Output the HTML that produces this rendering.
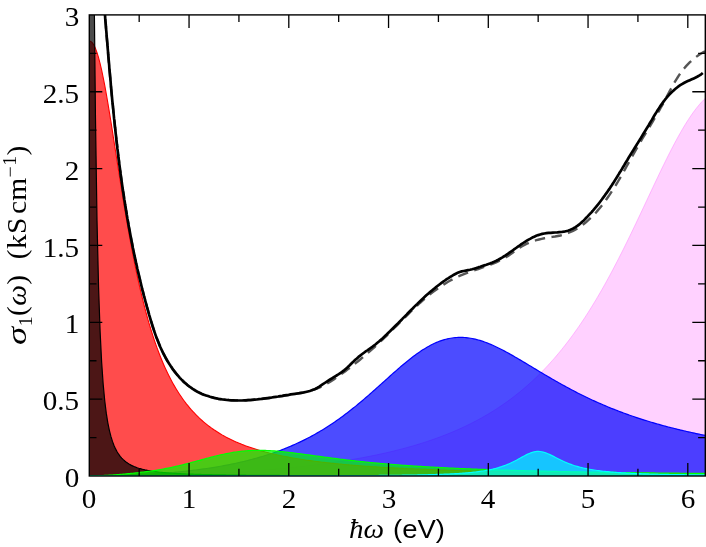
<!DOCTYPE html>
<html><head><meta charset="utf-8"><style>
html,body{margin:0;padding:0;background:#fff;overflow:hidden;}
body{width:706px;height:547px;position:relative;overflow:hidden;font-family:"Liberation Serif",serif;color:#000;}
.yl{position:absolute;right:626.8px;height:30px;line-height:30px;font-size:26.5px;white-space:nowrap;transform:scaleX(1.10);transform-origin:100% 50%;}
.xl{position:absolute;top:483.5px;width:40px;text-align:center;height:30px;line-height:30px;font-size:26.5px;transform:scaleX(1.10);}
#xlab{position:absolute;left:297px;width:200px;text-align:center;top:514px;height:30px;line-height:30px;font-size:26.5px;white-space:nowrap;transform:scaleX(1.10);}
#ylab{position:absolute;left:26px;top:345px;height:30px;line-height:30px;font-size:26.5px;letter-spacing:0.3px;white-space:nowrap;transform-origin:0 0;transform:rotate(-90deg) scaleX(1.11) translate(0,-24px);}
.i{font-style:italic;}
.yl,.xl,#xlab,#ylab{filter:grayscale(1);}
.s{font-family:"Liberation Sans",sans-serif;font-size:25px;}
sub,sup{font-size:18px;line-height:0;}
</style></head><body>
<svg width="706" height="547" viewBox="0 0 706 547" style="position:absolute;left:0;top:0">
<defs><clipPath id="c"><rect x="89.3" y="14.9" width="616.0" height="461.1"/></clipPath></defs>
<g clip-path="url(#c)">
<path d="M89.30 476.00 L90.84 476.00 L92.39 476.00 L93.93 476.00 L95.48 475.99 L97.02 475.99 L98.56 475.99 L100.11 475.98 L101.65 475.97 L103.19 475.97 L104.74 475.96 L106.28 475.95 L107.83 475.94 L109.37 475.93 L110.91 475.92 L112.46 475.91 L114.00 475.89 L115.55 475.88 L117.09 475.87 L118.63 475.85 L120.18 475.84 L121.72 475.82 L123.26 475.80 L124.81 475.78 L126.35 475.76 L127.90 475.74 L129.44 475.72 L130.98 475.70 L132.53 475.68 L134.07 475.65 L135.62 475.63 L137.16 475.60 L138.70 475.58 L140.25 475.55 L141.79 475.52 L143.34 475.49 L144.88 475.46 L146.42 475.43 L147.97 475.40 L149.51 475.37 L151.05 475.33 L152.60 475.30 L154.14 475.26 L155.69 475.23 L157.23 475.19 L158.77 475.15 L160.32 475.11 L161.86 475.07 L163.41 475.03 L164.95 474.99 L166.49 474.95 L168.04 474.90 L169.58 474.86 L171.12 474.81 L172.67 474.77 L174.21 474.72 L175.76 474.67 L177.30 474.62 L178.84 474.57 L180.39 474.52 L181.93 474.47 L183.48 474.41 L185.02 474.36 L186.56 474.30 L188.11 474.24 L189.65 474.19 L191.19 474.13 L192.74 474.07 L194.28 474.01 L195.83 473.95 L197.37 473.88 L198.91 473.82 L200.46 473.75 L202.00 473.69 L203.55 473.62 L205.09 473.55 L206.63 473.48 L208.18 473.41 L209.72 473.34 L211.26 473.26 L212.81 473.19 L214.35 473.11 L215.90 473.04 L217.44 472.96 L218.98 472.88 L220.53 472.80 L222.07 472.71 L223.62 472.63 L225.16 472.55 L226.70 472.46 L228.25 472.37 L229.79 472.29 L231.34 472.20 L232.88 472.10 L234.42 472.01 L235.97 471.92 L237.51 471.82 L239.05 471.73 L240.60 471.63 L242.14 471.53 L243.69 471.43 L245.23 471.33 L246.77 471.22 L248.32 471.12 L249.86 471.01 L251.41 470.90 L252.95 470.79 L254.49 470.68 L256.04 470.57 L257.58 470.45 L259.12 470.34 L260.67 470.22 L262.21 470.10 L263.76 469.98 L265.30 469.86 L266.84 469.73 L268.39 469.61 L269.93 469.48 L271.48 469.35 L273.02 469.22 L274.56 469.08 L276.11 468.95 L277.65 468.81 L279.19 468.67 L280.74 468.53 L282.28 468.39 L283.83 468.25 L285.37 468.10 L286.91 467.95 L288.46 467.80 L290.00 467.65 L291.55 467.49 L293.09 467.34 L294.63 467.18 L296.18 467.02 L297.72 466.86 L299.26 466.69 L300.81 466.52 L302.35 466.36 L303.90 466.18 L305.44 466.01 L306.98 465.83 L308.53 465.65 L310.07 465.47 L311.62 465.29 L313.16 465.10 L314.70 464.92 L316.25 464.73 L317.79 464.53 L319.34 464.34 L320.88 464.14 L322.42 463.94 L323.97 463.73 L325.51 463.53 L327.05 463.32 L328.60 463.11 L330.14 462.89 L331.69 462.67 L333.23 462.45 L334.77 462.23 L336.32 462.00 L337.86 461.77 L339.41 461.54 L340.95 461.30 L342.49 461.06 L344.04 460.82 L345.58 460.58 L347.12 460.33 L348.67 460.08 L350.21 459.82 L351.76 459.56 L353.30 459.30 L354.84 459.03 L356.39 458.76 L357.93 458.49 L359.48 458.21 L361.02 457.93 L362.56 457.65 L364.11 457.36 L365.65 457.07 L367.19 456.77 L368.74 456.47 L370.28 456.17 L371.83 455.86 L373.37 455.55 L374.91 455.23 L376.46 454.91 L378.00 454.59 L379.55 454.26 L381.09 453.92 L382.63 453.58 L384.18 453.24 L385.72 452.89 L387.26 452.54 L388.81 452.18 L390.35 451.81 L391.90 451.45 L393.44 451.07 L394.98 450.69 L396.53 450.31 L398.07 449.92 L399.62 449.53 L401.16 449.13 L402.70 448.72 L404.25 448.31 L405.79 447.89 L407.34 447.47 L408.88 447.04 L410.42 446.60 L411.97 446.16 L413.51 445.72 L415.05 445.26 L416.60 444.80 L418.14 444.33 L419.69 443.86 L421.23 443.38 L422.77 442.89 L424.32 442.40 L425.86 441.90 L427.41 441.39 L428.95 440.87 L430.49 440.35 L432.04 439.82 L433.58 439.28 L435.12 438.73 L436.67 438.18 L438.21 437.61 L439.76 437.04 L441.30 436.46 L442.84 435.87 L444.39 435.28 L445.93 434.67 L447.48 434.06 L449.02 433.43 L450.56 432.80 L452.11 432.16 L453.65 431.51 L455.19 430.85 L456.74 430.17 L458.28 429.49 L459.83 428.80 L461.37 428.10 L462.91 427.39 L464.46 426.66 L466.00 425.93 L467.55 425.18 L469.09 424.43 L470.63 423.66 L472.18 422.88 L473.72 422.09 L475.26 421.29 L476.81 420.47 L478.35 419.64 L479.90 418.80 L481.44 417.95 L482.98 417.08 L484.53 416.20 L486.07 415.31 L487.62 414.40 L489.16 413.48 L490.70 412.54 L492.25 411.59 L493.79 410.63 L495.34 409.65 L496.88 408.66 L498.42 407.65 L499.97 406.62 L501.51 405.58 L503.05 404.52 L504.60 403.45 L506.14 402.36 L507.69 401.25 L509.23 400.12 L510.77 398.98 L512.32 397.82 L513.86 396.64 L515.41 395.44 L516.95 394.23 L518.49 392.99 L520.04 391.74 L521.58 390.46 L523.12 389.17 L524.67 387.86 L526.21 386.52 L527.76 385.17 L529.30 383.79 L530.84 382.39 L532.39 380.97 L533.93 379.53 L535.48 378.07 L537.02 376.58 L538.56 375.07 L540.11 373.54 L541.65 371.98 L543.19 370.40 L544.74 368.80 L546.28 367.17 L547.83 365.51 L549.37 363.83 L550.91 362.13 L552.46 360.40 L554.00 358.64 L555.55 356.85 L557.09 355.04 L558.63 353.20 L560.18 351.34 L561.72 349.44 L563.26 347.52 L564.81 345.57 L566.35 343.59 L567.90 341.58 L569.44 339.54 L570.98 337.48 L572.53 335.38 L574.07 333.25 L575.62 331.09 L577.16 328.91 L578.70 326.69 L580.25 324.44 L581.79 322.16 L583.34 319.85 L584.88 317.50 L586.42 315.13 L587.97 312.73 L589.51 310.29 L591.05 307.82 L592.60 305.32 L594.14 302.79 L595.69 300.23 L597.23 297.63 L598.77 295.01 L600.32 292.35 L601.86 289.66 L603.41 286.94 L604.95 284.19 L606.49 281.41 L608.04 278.60 L609.58 275.76 L611.12 272.90 L612.67 270.00 L614.21 267.07 L615.76 264.12 L617.30 261.14 L618.84 258.13 L620.39 255.10 L621.93 252.05 L623.48 248.97 L625.02 245.86 L626.56 242.74 L628.11 239.59 L629.65 236.42 L631.19 233.24 L632.74 230.04 L634.28 226.82 L635.83 223.58 L637.37 220.34 L638.91 217.08 L640.46 213.81 L642.00 210.54 L643.55 207.25 L645.09 203.97 L646.63 200.68 L648.18 197.39 L649.72 194.10 L651.26 190.81 L652.81 187.53 L654.35 184.26 L655.90 181.00 L657.44 177.75 L658.98 174.52 L660.53 171.30 L662.07 168.11 L663.62 164.93 L665.16 161.79 L666.70 158.67 L668.25 155.59 L669.79 152.53 L671.34 149.52 L672.88 146.55 L674.42 143.62 L675.97 140.73 L677.51 137.89 L679.05 135.11 L680.60 132.38 L682.14 129.71 L683.69 127.09 L685.23 124.55 L686.77 122.06 L688.32 119.65 L689.86 117.31 L691.41 115.04 L692.95 112.84 L694.49 110.73 L696.04 108.70 L697.58 106.75 L699.12 104.89 L700.67 103.12 L702.21 101.43 L703.76 99.84 L705.30 98.34 L705.30 476.00 L89.30 476.00 Z" fill="#ff00ff" fill-opacity="0.18" stroke="none"/>
<path d="M89.30 476.00 L90.84 476.00 L92.39 476.00 L93.93 476.00 L95.48 475.99 L97.02 475.99 L98.56 475.99 L100.11 475.98 L101.65 475.97 L103.19 475.97 L104.74 475.96 L106.28 475.95 L107.83 475.94 L109.37 475.93 L110.91 475.92 L112.46 475.91 L114.00 475.89 L115.55 475.88 L117.09 475.87 L118.63 475.85 L120.18 475.84 L121.72 475.82 L123.26 475.80 L124.81 475.78 L126.35 475.76 L127.90 475.74 L129.44 475.72 L130.98 475.70 L132.53 475.68 L134.07 475.65 L135.62 475.63 L137.16 475.60 L138.70 475.58 L140.25 475.55 L141.79 475.52 L143.34 475.49 L144.88 475.46 L146.42 475.43 L147.97 475.40 L149.51 475.37 L151.05 475.33 L152.60 475.30 L154.14 475.26 L155.69 475.23 L157.23 475.19 L158.77 475.15 L160.32 475.11 L161.86 475.07 L163.41 475.03 L164.95 474.99 L166.49 474.95 L168.04 474.90 L169.58 474.86 L171.12 474.81 L172.67 474.77 L174.21 474.72 L175.76 474.67 L177.30 474.62 L178.84 474.57 L180.39 474.52 L181.93 474.47 L183.48 474.41 L185.02 474.36 L186.56 474.30 L188.11 474.24 L189.65 474.19 L191.19 474.13 L192.74 474.07 L194.28 474.01 L195.83 473.95 L197.37 473.88 L198.91 473.82 L200.46 473.75 L202.00 473.69 L203.55 473.62 L205.09 473.55 L206.63 473.48 L208.18 473.41 L209.72 473.34 L211.26 473.26 L212.81 473.19 L214.35 473.11 L215.90 473.04 L217.44 472.96 L218.98 472.88 L220.53 472.80 L222.07 472.71 L223.62 472.63 L225.16 472.55 L226.70 472.46 L228.25 472.37 L229.79 472.29 L231.34 472.20 L232.88 472.10 L234.42 472.01 L235.97 471.92 L237.51 471.82 L239.05 471.73 L240.60 471.63 L242.14 471.53 L243.69 471.43 L245.23 471.33 L246.77 471.22 L248.32 471.12 L249.86 471.01 L251.41 470.90 L252.95 470.79 L254.49 470.68 L256.04 470.57 L257.58 470.45 L259.12 470.34 L260.67 470.22 L262.21 470.10 L263.76 469.98 L265.30 469.86 L266.84 469.73 L268.39 469.61 L269.93 469.48 L271.48 469.35 L273.02 469.22 L274.56 469.08 L276.11 468.95 L277.65 468.81 L279.19 468.67 L280.74 468.53 L282.28 468.39 L283.83 468.25 L285.37 468.10 L286.91 467.95 L288.46 467.80 L290.00 467.65 L291.55 467.49 L293.09 467.34 L294.63 467.18 L296.18 467.02 L297.72 466.86 L299.26 466.69 L300.81 466.52 L302.35 466.36 L303.90 466.18 L305.44 466.01 L306.98 465.83 L308.53 465.65 L310.07 465.47 L311.62 465.29 L313.16 465.10 L314.70 464.92 L316.25 464.73 L317.79 464.53 L319.34 464.34 L320.88 464.14 L322.42 463.94 L323.97 463.73 L325.51 463.53 L327.05 463.32 L328.60 463.11 L330.14 462.89 L331.69 462.67 L333.23 462.45 L334.77 462.23 L336.32 462.00 L337.86 461.77 L339.41 461.54 L340.95 461.30 L342.49 461.06 L344.04 460.82 L345.58 460.58 L347.12 460.33 L348.67 460.08 L350.21 459.82 L351.76 459.56 L353.30 459.30 L354.84 459.03 L356.39 458.76 L357.93 458.49 L359.48 458.21 L361.02 457.93 L362.56 457.65 L364.11 457.36 L365.65 457.07 L367.19 456.77 L368.74 456.47 L370.28 456.17 L371.83 455.86 L373.37 455.55 L374.91 455.23 L376.46 454.91 L378.00 454.59 L379.55 454.26 L381.09 453.92 L382.63 453.58 L384.18 453.24 L385.72 452.89 L387.26 452.54 L388.81 452.18 L390.35 451.81 L391.90 451.45 L393.44 451.07 L394.98 450.69 L396.53 450.31 L398.07 449.92 L399.62 449.53 L401.16 449.13 L402.70 448.72 L404.25 448.31 L405.79 447.89 L407.34 447.47 L408.88 447.04 L410.42 446.60 L411.97 446.16 L413.51 445.72 L415.05 445.26 L416.60 444.80 L418.14 444.33 L419.69 443.86 L421.23 443.38 L422.77 442.89 L424.32 442.40 L425.86 441.90 L427.41 441.39 L428.95 440.87 L430.49 440.35 L432.04 439.82 L433.58 439.28 L435.12 438.73 L436.67 438.18 L438.21 437.61 L439.76 437.04 L441.30 436.46 L442.84 435.87 L444.39 435.28 L445.93 434.67 L447.48 434.06 L449.02 433.43 L450.56 432.80 L452.11 432.16 L453.65 431.51 L455.19 430.85 L456.74 430.17 L458.28 429.49 L459.83 428.80 L461.37 428.10 L462.91 427.39 L464.46 426.66 L466.00 425.93 L467.55 425.18 L469.09 424.43 L470.63 423.66 L472.18 422.88 L473.72 422.09 L475.26 421.29 L476.81 420.47 L478.35 419.64 L479.90 418.80 L481.44 417.95 L482.98 417.08 L484.53 416.20 L486.07 415.31 L487.62 414.40 L489.16 413.48 L490.70 412.54 L492.25 411.59 L493.79 410.63 L495.34 409.65 L496.88 408.66 L498.42 407.65 L499.97 406.62 L501.51 405.58 L503.05 404.52 L504.60 403.45 L506.14 402.36 L507.69 401.25 L509.23 400.12 L510.77 398.98 L512.32 397.82 L513.86 396.64 L515.41 395.44 L516.95 394.23 L518.49 392.99 L520.04 391.74 L521.58 390.46 L523.12 389.17 L524.67 387.86 L526.21 386.52 L527.76 385.17 L529.30 383.79 L530.84 382.39 L532.39 380.97 L533.93 379.53 L535.48 378.07 L537.02 376.58 L538.56 375.07 L540.11 373.54 L541.65 371.98 L543.19 370.40 L544.74 368.80 L546.28 367.17 L547.83 365.51 L549.37 363.83 L550.91 362.13 L552.46 360.40 L554.00 358.64 L555.55 356.85 L557.09 355.04 L558.63 353.20 L560.18 351.34 L561.72 349.44 L563.26 347.52 L564.81 345.57 L566.35 343.59 L567.90 341.58 L569.44 339.54 L570.98 337.48 L572.53 335.38 L574.07 333.25 L575.62 331.09 L577.16 328.91 L578.70 326.69 L580.25 324.44 L581.79 322.16 L583.34 319.85 L584.88 317.50 L586.42 315.13 L587.97 312.73 L589.51 310.29 L591.05 307.82 L592.60 305.32 L594.14 302.79 L595.69 300.23 L597.23 297.63 L598.77 295.01 L600.32 292.35 L601.86 289.66 L603.41 286.94 L604.95 284.19 L606.49 281.41 L608.04 278.60 L609.58 275.76 L611.12 272.90 L612.67 270.00 L614.21 267.07 L615.76 264.12 L617.30 261.14 L618.84 258.13 L620.39 255.10 L621.93 252.05 L623.48 248.97 L625.02 245.86 L626.56 242.74 L628.11 239.59 L629.65 236.42 L631.19 233.24 L632.74 230.04 L634.28 226.82 L635.83 223.58 L637.37 220.34 L638.91 217.08 L640.46 213.81 L642.00 210.54 L643.55 207.25 L645.09 203.97 L646.63 200.68 L648.18 197.39 L649.72 194.10 L651.26 190.81 L652.81 187.53 L654.35 184.26 L655.90 181.00 L657.44 177.75 L658.98 174.52 L660.53 171.30 L662.07 168.11 L663.62 164.93 L665.16 161.79 L666.70 158.67 L668.25 155.59 L669.79 152.53 L671.34 149.52 L672.88 146.55 L674.42 143.62 L675.97 140.73 L677.51 137.89 L679.05 135.11 L680.60 132.38 L682.14 129.71 L683.69 127.09 L685.23 124.55 L686.77 122.06 L688.32 119.65 L689.86 117.31 L691.41 115.04 L692.95 112.84 L694.49 110.73 L696.04 108.70 L697.58 106.75 L699.12 104.89 L700.67 103.12 L702.21 101.43 L703.76 99.84 L705.30 98.34" fill="none" stroke="#ff80ff" stroke-width="1" stroke-opacity="0.5"/>
<path d="M89.30 476.00 L90.84 476.00 L92.39 476.00 L93.93 475.99 L95.48 475.98 L97.02 475.97 L98.56 475.96 L100.11 475.95 L101.65 475.93 L103.19 475.91 L104.74 475.89 L106.28 475.87 L107.83 475.84 L109.37 475.81 L110.91 475.78 L112.46 475.75 L114.00 475.71 L115.55 475.68 L117.09 475.64 L118.63 475.60 L120.18 475.55 L121.72 475.50 L123.26 475.46 L124.81 475.40 L126.35 475.35 L127.90 475.29 L129.44 475.24 L130.98 475.17 L132.53 475.11 L134.07 475.05 L135.62 474.98 L137.16 474.91 L138.70 474.83 L140.25 474.76 L141.79 474.68 L143.34 474.60 L144.88 474.51 L146.42 474.42 L147.97 474.33 L149.51 474.24 L151.05 474.15 L152.60 474.05 L154.14 473.95 L155.69 473.84 L157.23 473.74 L158.77 473.63 L160.32 473.51 L161.86 473.40 L163.41 473.28 L164.95 473.16 L166.49 473.03 L168.04 472.90 L169.58 472.77 L171.12 472.64 L172.67 472.50 L174.21 472.36 L175.76 472.21 L177.30 472.07 L178.84 471.91 L180.39 471.76 L181.93 471.60 L183.48 471.44 L185.02 471.27 L186.56 471.10 L188.11 470.93 L189.65 470.75 L191.19 470.57 L192.74 470.38 L194.28 470.19 L195.83 469.99 L197.37 469.80 L198.91 469.59 L200.46 469.39 L202.00 469.17 L203.55 468.96 L205.09 468.74 L206.63 468.51 L208.18 468.28 L209.72 468.05 L211.26 467.81 L212.81 467.56 L214.35 467.31 L215.90 467.06 L217.44 466.80 L218.98 466.53 L220.53 466.26 L222.07 465.98 L223.62 465.70 L225.16 465.41 L226.70 465.12 L228.25 464.82 L229.79 464.51 L231.34 464.20 L232.88 463.88 L234.42 463.56 L235.97 463.23 L237.51 462.89 L239.05 462.54 L240.60 462.19 L242.14 461.83 L243.69 461.47 L245.23 461.09 L246.77 460.71 L248.32 460.33 L249.86 459.93 L251.41 459.53 L252.95 459.12 L254.49 458.70 L256.04 458.27 L257.58 457.84 L259.12 457.39 L260.67 456.94 L262.21 456.48 L263.76 456.01 L265.30 455.53 L266.84 455.04 L268.39 454.54 L269.93 454.04 L271.48 453.52 L273.02 452.99 L274.56 452.46 L276.11 451.91 L277.65 451.35 L279.19 450.78 L280.74 450.20 L282.28 449.61 L283.83 449.01 L285.37 448.40 L286.91 447.78 L288.46 447.14 L290.00 446.49 L291.55 445.84 L293.09 445.16 L294.63 444.48 L296.18 443.79 L297.72 443.08 L299.26 442.36 L300.81 441.62 L302.35 440.88 L303.90 440.11 L305.44 439.34 L306.98 438.55 L308.53 437.75 L310.07 436.94 L311.62 436.11 L313.16 435.26 L314.70 434.40 L316.25 433.53 L317.79 432.64 L319.34 431.74 L320.88 430.83 L322.42 429.89 L323.97 428.95 L325.51 427.99 L327.05 427.01 L328.60 426.02 L330.14 425.01 L331.69 423.99 L333.23 422.95 L334.77 421.90 L336.32 420.83 L337.86 419.74 L339.41 418.65 L340.95 417.53 L342.49 416.40 L344.04 415.26 L345.58 414.10 L347.12 412.93 L348.67 411.74 L350.21 410.54 L351.76 409.32 L353.30 408.09 L354.84 406.85 L356.39 405.60 L357.93 404.33 L359.48 403.05 L361.02 401.76 L362.56 400.45 L364.11 399.14 L365.65 397.81 L367.19 396.48 L368.74 395.13 L370.28 393.78 L371.83 392.42 L373.37 391.06 L374.91 389.68 L376.46 388.30 L378.00 386.92 L379.55 385.53 L381.09 384.14 L382.63 382.75 L384.18 381.36 L385.72 379.97 L387.26 378.58 L388.81 377.19 L390.35 375.80 L391.90 374.42 L393.44 373.05 L394.98 371.68 L396.53 370.33 L398.07 368.98 L399.62 367.64 L401.16 366.32 L402.70 365.01 L404.25 363.71 L405.79 362.43 L407.34 361.17 L408.88 359.93 L410.42 358.71 L411.97 357.51 L413.51 356.34 L415.05 355.19 L416.60 354.06 L418.14 352.97 L419.69 351.90 L421.23 350.86 L422.77 349.86 L424.32 348.89 L425.86 347.95 L427.41 347.04 L428.95 346.17 L430.49 345.34 L432.04 344.55 L433.58 343.79 L435.12 343.08 L436.67 342.40 L438.21 341.77 L439.76 341.18 L441.30 340.62 L442.84 340.12 L444.39 339.65 L445.93 339.23 L447.48 338.85 L449.02 338.51 L450.56 338.22 L452.11 337.97 L453.65 337.76 L455.19 337.60 L456.74 337.48 L458.28 337.40 L459.83 337.37 L461.37 337.37 L462.91 337.42 L464.46 337.51 L466.00 337.63 L467.55 337.80 L469.09 338.01 L470.63 338.25 L472.18 338.53 L473.72 338.85 L475.26 339.20 L476.81 339.58 L478.35 340.00 L479.90 340.45 L481.44 340.93 L482.98 341.44 L484.53 341.98 L486.07 342.55 L487.62 343.14 L489.16 343.76 L490.70 344.40 L492.25 345.07 L493.79 345.76 L495.34 346.47 L496.88 347.20 L498.42 347.95 L499.97 348.72 L501.51 349.50 L503.05 350.30 L504.60 351.11 L506.14 351.94 L507.69 352.78 L509.23 353.64 L510.77 354.50 L512.32 355.37 L513.86 356.26 L515.41 357.15 L516.95 358.04 L518.49 358.95 L520.04 359.86 L521.58 360.77 L523.12 361.69 L524.67 362.62 L526.21 363.54 L527.76 364.47 L529.30 365.40 L530.84 366.33 L532.39 367.26 L533.93 368.19 L535.48 369.12 L537.02 370.05 L538.56 370.98 L540.11 371.90 L541.65 372.83 L543.19 373.75 L544.74 374.66 L546.28 375.57 L547.83 376.48 L549.37 377.39 L550.91 378.29 L552.46 379.18 L554.00 380.07 L555.55 380.96 L557.09 381.84 L558.63 382.71 L560.18 383.58 L561.72 384.44 L563.26 385.29 L564.81 386.14 L566.35 386.98 L567.90 387.82 L569.44 388.65 L570.98 389.47 L572.53 390.28 L574.07 391.09 L575.62 391.88 L577.16 392.68 L578.70 393.46 L580.25 394.24 L581.79 395.01 L583.34 395.77 L584.88 396.52 L586.42 397.27 L587.97 398.01 L589.51 398.74 L591.05 399.47 L592.60 400.18 L594.14 400.89 L595.69 401.59 L597.23 402.29 L598.77 402.97 L600.32 403.65 L601.86 404.32 L603.41 404.99 L604.95 405.64 L606.49 406.29 L608.04 406.94 L609.58 407.57 L611.12 408.20 L612.67 408.82 L614.21 409.43 L615.76 410.04 L617.30 410.64 L618.84 411.23 L620.39 411.82 L621.93 412.40 L623.48 412.97 L625.02 413.54 L626.56 414.10 L628.11 414.65 L629.65 415.20 L631.19 415.74 L632.74 416.27 L634.28 416.80 L635.83 417.32 L637.37 417.83 L638.91 418.34 L640.46 418.85 L642.00 419.34 L643.55 419.84 L645.09 420.32 L646.63 420.80 L648.18 421.28 L649.72 421.74 L651.26 422.21 L652.81 422.66 L654.35 423.12 L655.90 423.56 L657.44 424.01 L658.98 424.44 L660.53 424.88 L662.07 425.30 L663.62 425.72 L665.16 426.14 L666.70 426.55 L668.25 426.96 L669.79 427.36 L671.34 427.76 L672.88 428.15 L674.42 428.54 L675.97 428.92 L677.51 429.30 L679.05 429.68 L680.60 430.05 L682.14 430.42 L683.69 430.78 L685.23 431.14 L686.77 431.49 L688.32 431.84 L689.86 432.19 L691.41 432.53 L692.95 432.87 L694.49 433.21 L696.04 433.54 L697.58 433.86 L699.12 434.19 L700.67 434.51 L702.21 434.82 L703.76 435.14 L705.30 435.45 L705.30 476.00 L89.30 476.00 Z" fill="#0000ff" fill-opacity="0.7" stroke="none"/>
<path d="M89.30 476.00 L90.84 476.00 L92.39 476.00 L93.93 475.99 L95.48 475.98 L97.02 475.97 L98.56 475.96 L100.11 475.95 L101.65 475.93 L103.19 475.91 L104.74 475.89 L106.28 475.87 L107.83 475.84 L109.37 475.81 L110.91 475.78 L112.46 475.75 L114.00 475.71 L115.55 475.68 L117.09 475.64 L118.63 475.60 L120.18 475.55 L121.72 475.50 L123.26 475.46 L124.81 475.40 L126.35 475.35 L127.90 475.29 L129.44 475.24 L130.98 475.17 L132.53 475.11 L134.07 475.05 L135.62 474.98 L137.16 474.91 L138.70 474.83 L140.25 474.76 L141.79 474.68 L143.34 474.60 L144.88 474.51 L146.42 474.42 L147.97 474.33 L149.51 474.24 L151.05 474.15 L152.60 474.05 L154.14 473.95 L155.69 473.84 L157.23 473.74 L158.77 473.63 L160.32 473.51 L161.86 473.40 L163.41 473.28 L164.95 473.16 L166.49 473.03 L168.04 472.90 L169.58 472.77 L171.12 472.64 L172.67 472.50 L174.21 472.36 L175.76 472.21 L177.30 472.07 L178.84 471.91 L180.39 471.76 L181.93 471.60 L183.48 471.44 L185.02 471.27 L186.56 471.10 L188.11 470.93 L189.65 470.75 L191.19 470.57 L192.74 470.38 L194.28 470.19 L195.83 469.99 L197.37 469.80 L198.91 469.59 L200.46 469.39 L202.00 469.17 L203.55 468.96 L205.09 468.74 L206.63 468.51 L208.18 468.28 L209.72 468.05 L211.26 467.81 L212.81 467.56 L214.35 467.31 L215.90 467.06 L217.44 466.80 L218.98 466.53 L220.53 466.26 L222.07 465.98 L223.62 465.70 L225.16 465.41 L226.70 465.12 L228.25 464.82 L229.79 464.51 L231.34 464.20 L232.88 463.88 L234.42 463.56 L235.97 463.23 L237.51 462.89 L239.05 462.54 L240.60 462.19 L242.14 461.83 L243.69 461.47 L245.23 461.09 L246.77 460.71 L248.32 460.33 L249.86 459.93 L251.41 459.53 L252.95 459.12 L254.49 458.70 L256.04 458.27 L257.58 457.84 L259.12 457.39 L260.67 456.94 L262.21 456.48 L263.76 456.01 L265.30 455.53 L266.84 455.04 L268.39 454.54 L269.93 454.04 L271.48 453.52 L273.02 452.99 L274.56 452.46 L276.11 451.91 L277.65 451.35 L279.19 450.78 L280.74 450.20 L282.28 449.61 L283.83 449.01 L285.37 448.40 L286.91 447.78 L288.46 447.14 L290.00 446.49 L291.55 445.84 L293.09 445.16 L294.63 444.48 L296.18 443.79 L297.72 443.08 L299.26 442.36 L300.81 441.62 L302.35 440.88 L303.90 440.11 L305.44 439.34 L306.98 438.55 L308.53 437.75 L310.07 436.94 L311.62 436.11 L313.16 435.26 L314.70 434.40 L316.25 433.53 L317.79 432.64 L319.34 431.74 L320.88 430.83 L322.42 429.89 L323.97 428.95 L325.51 427.99 L327.05 427.01 L328.60 426.02 L330.14 425.01 L331.69 423.99 L333.23 422.95 L334.77 421.90 L336.32 420.83 L337.86 419.74 L339.41 418.65 L340.95 417.53 L342.49 416.40 L344.04 415.26 L345.58 414.10 L347.12 412.93 L348.67 411.74 L350.21 410.54 L351.76 409.32 L353.30 408.09 L354.84 406.85 L356.39 405.60 L357.93 404.33 L359.48 403.05 L361.02 401.76 L362.56 400.45 L364.11 399.14 L365.65 397.81 L367.19 396.48 L368.74 395.13 L370.28 393.78 L371.83 392.42 L373.37 391.06 L374.91 389.68 L376.46 388.30 L378.00 386.92 L379.55 385.53 L381.09 384.14 L382.63 382.75 L384.18 381.36 L385.72 379.97 L387.26 378.58 L388.81 377.19 L390.35 375.80 L391.90 374.42 L393.44 373.05 L394.98 371.68 L396.53 370.33 L398.07 368.98 L399.62 367.64 L401.16 366.32 L402.70 365.01 L404.25 363.71 L405.79 362.43 L407.34 361.17 L408.88 359.93 L410.42 358.71 L411.97 357.51 L413.51 356.34 L415.05 355.19 L416.60 354.06 L418.14 352.97 L419.69 351.90 L421.23 350.86 L422.77 349.86 L424.32 348.89 L425.86 347.95 L427.41 347.04 L428.95 346.17 L430.49 345.34 L432.04 344.55 L433.58 343.79 L435.12 343.08 L436.67 342.40 L438.21 341.77 L439.76 341.18 L441.30 340.62 L442.84 340.12 L444.39 339.65 L445.93 339.23 L447.48 338.85 L449.02 338.51 L450.56 338.22 L452.11 337.97 L453.65 337.76 L455.19 337.60 L456.74 337.48 L458.28 337.40 L459.83 337.37 L461.37 337.37 L462.91 337.42 L464.46 337.51 L466.00 337.63 L467.55 337.80 L469.09 338.01 L470.63 338.25 L472.18 338.53 L473.72 338.85 L475.26 339.20 L476.81 339.58 L478.35 340.00 L479.90 340.45 L481.44 340.93 L482.98 341.44 L484.53 341.98 L486.07 342.55 L487.62 343.14 L489.16 343.76 L490.70 344.40 L492.25 345.07 L493.79 345.76 L495.34 346.47 L496.88 347.20 L498.42 347.95 L499.97 348.72 L501.51 349.50 L503.05 350.30 L504.60 351.11 L506.14 351.94 L507.69 352.78 L509.23 353.64 L510.77 354.50 L512.32 355.37 L513.86 356.26 L515.41 357.15 L516.95 358.04 L518.49 358.95 L520.04 359.86 L521.58 360.77 L523.12 361.69 L524.67 362.62 L526.21 363.54 L527.76 364.47 L529.30 365.40 L530.84 366.33 L532.39 367.26 L533.93 368.19 L535.48 369.12 L537.02 370.05 L538.56 370.98 L540.11 371.90 L541.65 372.83 L543.19 373.75 L544.74 374.66 L546.28 375.57 L547.83 376.48 L549.37 377.39 L550.91 378.29 L552.46 379.18 L554.00 380.07 L555.55 380.96 L557.09 381.84 L558.63 382.71 L560.18 383.58 L561.72 384.44 L563.26 385.29 L564.81 386.14 L566.35 386.98 L567.90 387.82 L569.44 388.65 L570.98 389.47 L572.53 390.28 L574.07 391.09 L575.62 391.88 L577.16 392.68 L578.70 393.46 L580.25 394.24 L581.79 395.01 L583.34 395.77 L584.88 396.52 L586.42 397.27 L587.97 398.01 L589.51 398.74 L591.05 399.47 L592.60 400.18 L594.14 400.89 L595.69 401.59 L597.23 402.29 L598.77 402.97 L600.32 403.65 L601.86 404.32 L603.41 404.99 L604.95 405.64 L606.49 406.29 L608.04 406.94 L609.58 407.57 L611.12 408.20 L612.67 408.82 L614.21 409.43 L615.76 410.04 L617.30 410.64 L618.84 411.23 L620.39 411.82 L621.93 412.40 L623.48 412.97 L625.02 413.54 L626.56 414.10 L628.11 414.65 L629.65 415.20 L631.19 415.74 L632.74 416.27 L634.28 416.80 L635.83 417.32 L637.37 417.83 L638.91 418.34 L640.46 418.85 L642.00 419.34 L643.55 419.84 L645.09 420.32 L646.63 420.80 L648.18 421.28 L649.72 421.74 L651.26 422.21 L652.81 422.66 L654.35 423.12 L655.90 423.56 L657.44 424.01 L658.98 424.44 L660.53 424.88 L662.07 425.30 L663.62 425.72 L665.16 426.14 L666.70 426.55 L668.25 426.96 L669.79 427.36 L671.34 427.76 L672.88 428.15 L674.42 428.54 L675.97 428.92 L677.51 429.30 L679.05 429.68 L680.60 430.05 L682.14 430.42 L683.69 430.78 L685.23 431.14 L686.77 431.49 L688.32 431.84 L689.86 432.19 L691.41 432.53 L692.95 432.87 L694.49 433.21 L696.04 433.54 L697.58 433.86 L699.12 434.19 L700.67 434.51 L702.21 434.82 L703.76 435.14 L705.30 435.45" fill="none" stroke="#0000ff" stroke-width="1.2" stroke-opacity="1"/>
<path d="M89.30 41.03 L90.84 41.46 L92.39 42.82 L93.93 45.13 L95.48 48.40 L97.02 52.58 L98.56 57.65 L100.11 63.54 L101.65 70.19 L103.19 77.53 L104.74 85.47 L106.28 93.94 L107.83 102.85 L109.37 112.12 L110.91 121.67 L112.46 131.43 L114.00 141.32 L115.55 151.28 L117.09 161.25 L118.63 171.18 L120.18 181.01 L121.72 190.72 L123.26 200.26 L124.81 209.62 L126.35 218.75 L127.90 227.65 L129.44 236.31 L130.98 244.70 L132.53 252.83 L134.07 260.69 L135.62 268.28 L137.16 275.60 L138.70 282.64 L140.25 289.43 L141.79 295.95 L143.34 302.21 L144.88 308.23 L146.42 314.01 L147.97 319.56 L149.51 324.88 L151.05 329.98 L152.60 334.87 L154.14 339.56 L155.69 344.06 L157.23 348.37 L158.77 352.50 L160.32 356.47 L161.86 360.27 L163.41 363.92 L164.95 367.41 L166.49 370.77 L168.04 373.99 L169.58 377.08 L171.12 380.05 L172.67 382.90 L174.21 385.63 L175.76 388.26 L177.30 390.79 L178.84 393.21 L180.39 395.55 L181.93 397.79 L183.48 399.96 L185.02 402.03 L186.56 404.04 L188.11 405.96 L189.65 407.82 L191.19 409.61 L192.74 411.33 L194.28 412.99 L195.83 414.60 L197.37 416.14 L198.91 417.64 L200.46 419.08 L202.00 420.47 L203.55 421.81 L205.09 423.11 L206.63 424.36 L208.18 425.58 L209.72 426.75 L211.26 427.88 L212.81 428.98 L214.35 430.05 L215.90 431.07 L217.44 432.07 L218.98 433.03 L220.53 433.97 L222.07 434.88 L223.62 435.75 L225.16 436.61 L226.70 437.43 L228.25 438.23 L229.79 439.01 L231.34 439.77 L232.88 440.50 L234.42 441.21 L235.97 441.90 L237.51 442.57 L239.05 443.23 L240.60 443.86 L242.14 444.48 L243.69 445.08 L245.23 445.66 L246.77 446.23 L248.32 446.78 L249.86 447.32 L251.41 447.84 L252.95 448.35 L254.49 448.85 L256.04 449.33 L257.58 449.80 L259.12 450.26 L260.67 450.71 L262.21 451.15 L263.76 451.57 L265.30 451.99 L266.84 452.39 L268.39 452.79 L269.93 453.17 L271.48 453.55 L273.02 453.92 L274.56 454.28 L276.11 454.63 L277.65 454.97 L279.19 455.30 L280.74 455.63 L282.28 455.95 L283.83 456.26 L285.37 456.56 L286.91 456.86 L288.46 457.15 L290.00 457.44 L291.55 457.72 L293.09 457.99 L294.63 458.25 L296.18 458.52 L297.72 458.77 L299.26 459.02 L300.81 459.27 L302.35 459.50 L303.90 459.74 L305.44 459.97 L306.98 460.19 L308.53 460.41 L310.07 460.63 L311.62 460.84 L313.16 461.05 L314.70 461.25 L316.25 461.45 L317.79 461.65 L319.34 461.84 L320.88 462.02 L322.42 462.21 L323.97 462.39 L325.51 462.57 L327.05 462.74 L328.60 462.91 L330.14 463.08 L331.69 463.24 L333.23 463.40 L334.77 463.56 L336.32 463.72 L337.86 463.87 L339.41 464.02 L340.95 464.16 L342.49 464.31 L344.04 464.45 L345.58 464.59 L347.12 464.73 L348.67 464.86 L350.21 464.99 L351.76 465.12 L353.30 465.25 L354.84 465.37 L356.39 465.50 L357.93 465.62 L359.48 465.74 L361.02 465.85 L362.56 465.97 L364.11 466.08 L365.65 466.19 L367.19 466.30 L368.74 466.41 L370.28 466.52 L371.83 466.62 L373.37 466.72 L374.91 466.82 L376.46 466.92 L378.00 467.02 L379.55 467.12 L381.09 467.21 L382.63 467.30 L384.18 467.40 L385.72 467.49 L387.26 467.58 L388.81 467.66 L390.35 467.75 L391.90 467.83 L393.44 467.92 L394.98 468.00 L396.53 468.08 L398.07 468.16 L399.62 468.24 L401.16 468.32 L402.70 468.39 L404.25 468.47 L405.79 468.54 L407.34 468.62 L408.88 468.69 L410.42 468.76 L411.97 468.83 L413.51 468.90 L415.05 468.97 L416.60 469.03 L418.14 469.10 L419.69 469.16 L421.23 469.23 L422.77 469.29 L424.32 469.35 L425.86 469.42 L427.41 469.48 L428.95 469.54 L430.49 469.60 L432.04 469.65 L433.58 469.71 L435.12 469.77 L436.67 469.83 L438.21 469.88 L439.76 469.94 L441.30 469.99 L442.84 470.04 L444.39 470.10 L445.93 470.15 L447.48 470.20 L449.02 470.25 L450.56 470.30 L452.11 470.35 L453.65 470.40 L455.19 470.44 L456.74 470.49 L458.28 470.54 L459.83 470.58 L461.37 470.63 L462.91 470.68 L464.46 470.72 L466.00 470.76 L467.55 470.81 L469.09 470.85 L470.63 470.89 L472.18 470.93 L473.72 470.98 L475.26 471.02 L476.81 471.06 L478.35 471.10 L479.90 471.14 L481.44 471.17 L482.98 471.21 L484.53 471.25 L486.07 471.29 L487.62 471.33 L489.16 471.36 L490.70 471.40 L492.25 471.43 L493.79 471.47 L495.34 471.51 L496.88 471.54 L498.42 471.57 L499.97 471.61 L501.51 471.64 L503.05 471.67 L504.60 471.71 L506.14 471.74 L507.69 471.77 L509.23 471.80 L510.77 471.83 L512.32 471.87 L513.86 471.90 L515.41 471.93 L516.95 471.96 L518.49 471.99 L520.04 472.02 L521.58 472.04 L523.12 472.07 L524.67 472.10 L526.21 472.13 L527.76 472.16 L529.30 472.18 L530.84 472.21 L532.39 472.24 L533.93 472.27 L535.48 472.29 L537.02 472.32 L538.56 472.34 L540.11 472.37 L541.65 472.39 L543.19 472.42 L544.74 472.44 L546.28 472.47 L547.83 472.49 L549.37 472.52 L550.91 472.54 L552.46 472.56 L554.00 472.59 L555.55 472.61 L557.09 472.63 L558.63 472.66 L560.18 472.68 L561.72 472.70 L563.26 472.72 L564.81 472.74 L566.35 472.77 L567.90 472.79 L569.44 472.81 L570.98 472.83 L572.53 472.85 L574.07 472.87 L575.62 472.89 L577.16 472.91 L578.70 472.93 L580.25 472.95 L581.79 472.97 L583.34 472.99 L584.88 473.01 L586.42 473.03 L587.97 473.05 L589.51 473.06 L591.05 473.08 L592.60 473.10 L594.14 473.12 L595.69 473.14 L597.23 473.16 L598.77 473.17 L600.32 473.19 L601.86 473.21 L603.41 473.22 L604.95 473.24 L606.49 473.26 L608.04 473.28 L609.58 473.29 L611.12 473.31 L612.67 473.32 L614.21 473.34 L615.76 473.36 L617.30 473.37 L618.84 473.39 L620.39 473.40 L621.93 473.42 L623.48 473.43 L625.02 473.45 L626.56 473.46 L628.11 473.48 L629.65 473.49 L631.19 473.51 L632.74 473.52 L634.28 473.54 L635.83 473.55 L637.37 473.57 L638.91 473.58 L640.46 473.59 L642.00 473.61 L643.55 473.62 L645.09 473.63 L646.63 473.65 L648.18 473.66 L649.72 473.67 L651.26 473.69 L652.81 473.70 L654.35 473.71 L655.90 473.73 L657.44 473.74 L658.98 473.75 L660.53 473.76 L662.07 473.78 L663.62 473.79 L665.16 473.80 L666.70 473.81 L668.25 473.82 L669.79 473.84 L671.34 473.85 L672.88 473.86 L674.42 473.87 L675.97 473.88 L677.51 473.89 L679.05 473.91 L680.60 473.92 L682.14 473.93 L683.69 473.94 L685.23 473.95 L686.77 473.96 L688.32 473.97 L689.86 473.98 L691.41 473.99 L692.95 474.00 L694.49 474.01 L696.04 474.02 L697.58 474.03 L699.12 474.04 L700.67 474.05 L702.21 474.06 L703.76 474.07 L705.30 474.08 L705.30 476.00 L89.30 476.00 Z" fill="#ff0000" fill-opacity="0.7" stroke="none"/>
<path d="M89.30 41.03 L90.84 41.46 L92.39 42.82 L93.93 45.13 L95.48 48.40 L97.02 52.58 L98.56 57.65 L100.11 63.54 L101.65 70.19 L103.19 77.53 L104.74 85.47 L106.28 93.94 L107.83 102.85 L109.37 112.12 L110.91 121.67 L112.46 131.43 L114.00 141.32 L115.55 151.28 L117.09 161.25 L118.63 171.18 L120.18 181.01 L121.72 190.72 L123.26 200.26 L124.81 209.62 L126.35 218.75 L127.90 227.65 L129.44 236.31 L130.98 244.70 L132.53 252.83 L134.07 260.69 L135.62 268.28 L137.16 275.60 L138.70 282.64 L140.25 289.43 L141.79 295.95 L143.34 302.21 L144.88 308.23 L146.42 314.01 L147.97 319.56 L149.51 324.88 L151.05 329.98 L152.60 334.87 L154.14 339.56 L155.69 344.06 L157.23 348.37 L158.77 352.50 L160.32 356.47 L161.86 360.27 L163.41 363.92 L164.95 367.41 L166.49 370.77 L168.04 373.99 L169.58 377.08 L171.12 380.05 L172.67 382.90 L174.21 385.63 L175.76 388.26 L177.30 390.79 L178.84 393.21 L180.39 395.55 L181.93 397.79 L183.48 399.96 L185.02 402.03 L186.56 404.04 L188.11 405.96 L189.65 407.82 L191.19 409.61 L192.74 411.33 L194.28 412.99 L195.83 414.60 L197.37 416.14 L198.91 417.64 L200.46 419.08 L202.00 420.47 L203.55 421.81 L205.09 423.11 L206.63 424.36 L208.18 425.58 L209.72 426.75 L211.26 427.88 L212.81 428.98 L214.35 430.05 L215.90 431.07 L217.44 432.07 L218.98 433.03 L220.53 433.97 L222.07 434.88 L223.62 435.75 L225.16 436.61 L226.70 437.43 L228.25 438.23 L229.79 439.01 L231.34 439.77 L232.88 440.50 L234.42 441.21 L235.97 441.90 L237.51 442.57 L239.05 443.23 L240.60 443.86 L242.14 444.48 L243.69 445.08 L245.23 445.66 L246.77 446.23 L248.32 446.78 L249.86 447.32 L251.41 447.84 L252.95 448.35 L254.49 448.85 L256.04 449.33 L257.58 449.80 L259.12 450.26 L260.67 450.71 L262.21 451.15 L263.76 451.57 L265.30 451.99 L266.84 452.39 L268.39 452.79 L269.93 453.17 L271.48 453.55 L273.02 453.92 L274.56 454.28 L276.11 454.63 L277.65 454.97 L279.19 455.30 L280.74 455.63 L282.28 455.95 L283.83 456.26 L285.37 456.56 L286.91 456.86 L288.46 457.15 L290.00 457.44 L291.55 457.72 L293.09 457.99 L294.63 458.25 L296.18 458.52 L297.72 458.77 L299.26 459.02 L300.81 459.27 L302.35 459.50 L303.90 459.74 L305.44 459.97 L306.98 460.19 L308.53 460.41 L310.07 460.63 L311.62 460.84 L313.16 461.05 L314.70 461.25 L316.25 461.45 L317.79 461.65 L319.34 461.84 L320.88 462.02 L322.42 462.21 L323.97 462.39 L325.51 462.57 L327.05 462.74 L328.60 462.91 L330.14 463.08 L331.69 463.24 L333.23 463.40 L334.77 463.56 L336.32 463.72 L337.86 463.87 L339.41 464.02 L340.95 464.16 L342.49 464.31 L344.04 464.45 L345.58 464.59 L347.12 464.73 L348.67 464.86 L350.21 464.99 L351.76 465.12 L353.30 465.25 L354.84 465.37 L356.39 465.50 L357.93 465.62 L359.48 465.74 L361.02 465.85 L362.56 465.97 L364.11 466.08 L365.65 466.19 L367.19 466.30 L368.74 466.41 L370.28 466.52 L371.83 466.62 L373.37 466.72 L374.91 466.82 L376.46 466.92 L378.00 467.02 L379.55 467.12 L381.09 467.21 L382.63 467.30 L384.18 467.40 L385.72 467.49 L387.26 467.58 L388.81 467.66 L390.35 467.75 L391.90 467.83 L393.44 467.92 L394.98 468.00 L396.53 468.08 L398.07 468.16 L399.62 468.24 L401.16 468.32 L402.70 468.39 L404.25 468.47 L405.79 468.54 L407.34 468.62 L408.88 468.69 L410.42 468.76 L411.97 468.83 L413.51 468.90 L415.05 468.97 L416.60 469.03 L418.14 469.10 L419.69 469.16 L421.23 469.23 L422.77 469.29 L424.32 469.35 L425.86 469.42 L427.41 469.48 L428.95 469.54 L430.49 469.60 L432.04 469.65 L433.58 469.71 L435.12 469.77 L436.67 469.83 L438.21 469.88 L439.76 469.94 L441.30 469.99 L442.84 470.04 L444.39 470.10 L445.93 470.15 L447.48 470.20 L449.02 470.25 L450.56 470.30 L452.11 470.35 L453.65 470.40 L455.19 470.44 L456.74 470.49 L458.28 470.54 L459.83 470.58 L461.37 470.63 L462.91 470.68 L464.46 470.72 L466.00 470.76 L467.55 470.81 L469.09 470.85 L470.63 470.89 L472.18 470.93 L473.72 470.98 L475.26 471.02 L476.81 471.06 L478.35 471.10 L479.90 471.14 L481.44 471.17 L482.98 471.21 L484.53 471.25 L486.07 471.29 L487.62 471.33 L489.16 471.36 L490.70 471.40 L492.25 471.43 L493.79 471.47 L495.34 471.51 L496.88 471.54 L498.42 471.57 L499.97 471.61 L501.51 471.64 L503.05 471.67 L504.60 471.71 L506.14 471.74 L507.69 471.77 L509.23 471.80 L510.77 471.83 L512.32 471.87 L513.86 471.90 L515.41 471.93 L516.95 471.96 L518.49 471.99 L520.04 472.02 L521.58 472.04 L523.12 472.07 L524.67 472.10 L526.21 472.13 L527.76 472.16 L529.30 472.18 L530.84 472.21 L532.39 472.24 L533.93 472.27 L535.48 472.29 L537.02 472.32 L538.56 472.34 L540.11 472.37 L541.65 472.39 L543.19 472.42 L544.74 472.44 L546.28 472.47 L547.83 472.49 L549.37 472.52 L550.91 472.54 L552.46 472.56 L554.00 472.59 L555.55 472.61 L557.09 472.63 L558.63 472.66 L560.18 472.68 L561.72 472.70 L563.26 472.72 L564.81 472.74 L566.35 472.77 L567.90 472.79 L569.44 472.81 L570.98 472.83 L572.53 472.85 L574.07 472.87 L575.62 472.89 L577.16 472.91 L578.70 472.93 L580.25 472.95 L581.79 472.97 L583.34 472.99 L584.88 473.01 L586.42 473.03 L587.97 473.05 L589.51 473.06 L591.05 473.08 L592.60 473.10 L594.14 473.12 L595.69 473.14 L597.23 473.16 L598.77 473.17 L600.32 473.19 L601.86 473.21 L603.41 473.22 L604.95 473.24 L606.49 473.26 L608.04 473.28 L609.58 473.29 L611.12 473.31 L612.67 473.32 L614.21 473.34 L615.76 473.36 L617.30 473.37 L618.84 473.39 L620.39 473.40 L621.93 473.42 L623.48 473.43 L625.02 473.45 L626.56 473.46 L628.11 473.48 L629.65 473.49 L631.19 473.51 L632.74 473.52 L634.28 473.54 L635.83 473.55 L637.37 473.57 L638.91 473.58 L640.46 473.59 L642.00 473.61 L643.55 473.62 L645.09 473.63 L646.63 473.65 L648.18 473.66 L649.72 473.67 L651.26 473.69 L652.81 473.70 L654.35 473.71 L655.90 473.73 L657.44 473.74 L658.98 473.75 L660.53 473.76 L662.07 473.78 L663.62 473.79 L665.16 473.80 L666.70 473.81 L668.25 473.82 L669.79 473.84 L671.34 473.85 L672.88 473.86 L674.42 473.87 L675.97 473.88 L677.51 473.89 L679.05 473.91 L680.60 473.92 L682.14 473.93 L683.69 473.94 L685.23 473.95 L686.77 473.96 L688.32 473.97 L689.86 473.98 L691.41 473.99 L692.95 474.00 L694.49 474.01 L696.04 474.02 L697.58 474.03 L699.12 474.04 L700.67 474.05 L702.21 474.06 L703.76 474.07 L705.30 474.08" fill="none" stroke="#ff0000" stroke-width="1.1" stroke-opacity="1"/>
<path d="M89.30 -31.21 L90.84 -31.21 L92.39 -31.21 L93.93 -31.21 L95.48 117.94 L97.02 220.73 L98.56 287.04 L100.11 331.42 L101.65 362.25 L103.19 384.38 L104.74 400.75 L106.28 413.16 L107.83 422.77 L109.37 430.36 L110.91 436.45 L112.46 441.41 L114.00 445.50 L115.55 448.90 L117.09 451.78 L118.63 454.22 L120.18 456.31 L121.72 458.11 L123.26 459.68 L124.81 461.05 L126.35 462.26 L127.90 463.32 L129.44 464.27 L130.98 465.12 L132.53 465.87 L134.07 466.56 L135.62 467.17 L137.16 467.73 L138.70 468.23 L140.25 468.69 L141.79 469.12 L143.34 469.50 L144.88 469.86 L146.42 470.18 L147.97 470.48 L149.51 470.76 L151.05 471.02 L152.60 471.26 L154.14 471.48 L155.69 471.69 L157.23 471.88 L158.77 472.06 L160.32 472.23 L161.86 472.39 L163.41 472.54 L164.95 472.68 L166.49 472.81 L168.04 472.93 L169.58 473.05 L171.12 473.16 L172.67 473.26 L174.21 473.36 L175.76 473.45 L177.30 473.54 L178.84 473.63 L180.39 473.71 L181.93 473.78 L183.48 473.85 L185.02 473.92 L186.56 473.99 L188.11 474.05 L189.65 474.11 L191.19 474.17 L192.74 474.22 L194.28 474.27 L195.83 474.32 L197.37 474.37 L198.91 474.41 L200.46 474.46 L202.00 474.50 L203.55 474.54 L205.09 474.58 L206.63 474.62 L208.18 474.65 L209.72 474.69 L211.26 474.72 L212.81 474.75 L214.35 474.78 L215.90 474.81 L217.44 474.84 L218.98 474.87 L220.53 474.89 L222.07 474.92 L223.62 474.94 L225.16 474.97 L226.70 474.99 L228.25 475.01 L229.79 475.03 L231.34 475.06 L232.88 475.08 L234.42 475.09 L235.97 475.11 L237.51 475.13 L239.05 475.15 L240.60 475.17 L242.14 475.18 L243.69 475.20 L245.23 475.22 L246.77 475.23 L248.32 475.25 L249.86 475.26 L251.41 475.27 L252.95 475.29 L254.49 475.30 L256.04 475.31 L257.58 475.33 L259.12 475.34 L260.67 475.35 L262.21 475.36 L263.76 475.37 L265.30 475.38 L266.84 475.40 L268.39 475.41 L269.93 475.42 L271.48 475.43 L273.02 475.44 L274.56 475.44 L276.11 475.45 L277.65 475.46 L279.19 475.47 L280.74 475.48 L282.28 475.49 L283.83 475.50 L285.37 475.50 L286.91 475.51 L288.46 475.52 L290.00 475.53 L291.55 475.53 L293.09 475.54 L294.63 475.55 L296.18 475.55 L297.72 475.56 L299.26 475.57 L300.81 475.57 L302.35 475.58 L303.90 475.59 L305.44 475.59 L306.98 475.60 L308.53 475.60 L310.07 475.61 L311.62 475.61 L313.16 475.62 L314.70 475.62 L316.25 475.63 L317.79 475.63 L319.34 475.64 L320.88 475.64 L322.42 475.65 L323.97 475.65 L325.51 475.66 L327.05 475.66 L328.60 475.67 L330.14 475.67 L331.69 475.68 L333.23 475.68 L334.77 475.68 L336.32 475.69 L337.86 475.69 L339.41 475.70 L340.95 475.70 L342.49 475.70 L344.04 475.71 L345.58 475.71 L347.12 475.71 L348.67 475.72 L350.21 475.72 L351.76 475.72 L353.30 475.73 L354.84 475.73 L356.39 475.73 L357.93 475.74 L359.48 475.74 L361.02 475.74 L362.56 475.74 L364.11 475.75 L365.65 475.75 L367.19 475.75 L368.74 475.76 L370.28 475.76 L371.83 475.76 L373.37 475.76 L374.91 475.77 L376.46 475.77 L378.00 475.77 L379.55 475.77 L381.09 475.78 L382.63 475.78 L384.18 475.78 L385.72 475.78 L387.26 475.79 L388.81 475.79 L390.35 475.79 L391.90 475.79 L393.44 475.79 L394.98 475.80 L396.53 475.80 L398.07 475.80 L399.62 475.80 L401.16 475.80 L402.70 475.81 L404.25 475.81 L405.79 475.81 L407.34 475.81 L408.88 475.81 L410.42 475.82 L411.97 475.82 L413.51 475.82 L415.05 475.82 L416.60 475.82 L418.14 475.82 L419.69 475.83 L421.23 475.83 L422.77 475.83 L424.32 475.83 L425.86 475.83 L427.41 475.83 L428.95 475.83 L430.49 475.84 L432.04 475.84 L433.58 475.84 L435.12 475.84 L436.67 475.84 L438.21 475.84 L439.76 475.84 L441.30 475.85 L442.84 475.85 L444.39 475.85 L445.93 475.85 L447.48 475.85 L449.02 475.85 L450.56 475.85 L452.11 475.86 L453.65 475.86 L455.19 475.86 L456.74 475.86 L458.28 475.86 L459.83 475.86 L461.37 475.86 L462.91 475.86 L464.46 475.86 L466.00 475.87 L467.55 475.87 L469.09 475.87 L470.63 475.87 L472.18 475.87 L473.72 475.87 L475.26 475.87 L476.81 475.87 L478.35 475.87 L479.90 475.87 L481.44 475.88 L482.98 475.88 L484.53 475.88 L486.07 475.88 L487.62 475.88 L489.16 475.88 L490.70 475.88 L492.25 475.88 L493.79 475.88 L495.34 475.88 L496.88 475.89 L498.42 475.89 L499.97 475.89 L501.51 475.89 L503.05 475.89 L504.60 475.89 L506.14 475.89 L507.69 475.89 L509.23 475.89 L510.77 475.89 L512.32 475.89 L513.86 475.89 L515.41 475.89 L516.95 475.90 L518.49 475.90 L520.04 475.90 L521.58 475.90 L523.12 475.90 L524.67 475.90 L526.21 475.90 L527.76 475.90 L529.30 475.90 L530.84 475.90 L532.39 475.90 L533.93 475.90 L535.48 475.90 L537.02 475.90 L538.56 475.91 L540.11 475.91 L541.65 475.91 L543.19 475.91 L544.74 475.91 L546.28 475.91 L547.83 475.91 L549.37 475.91 L550.91 475.91 L552.46 475.91 L554.00 475.91 L555.55 475.91 L557.09 475.91 L558.63 475.91 L560.18 475.91 L561.72 475.91 L563.26 475.92 L564.81 475.92 L566.35 475.92 L567.90 475.92 L569.44 475.92 L570.98 475.92 L572.53 475.92 L574.07 475.92 L575.62 475.92 L577.16 475.92 L578.70 475.92 L580.25 475.92 L581.79 475.92 L583.34 475.92 L584.88 475.92 L586.42 475.92 L587.97 475.92 L589.51 475.92 L591.05 475.92 L592.60 475.92 L594.14 475.93 L595.69 475.93 L597.23 475.93 L598.77 475.93 L600.32 475.93 L601.86 475.93 L603.41 475.93 L604.95 475.93 L606.49 475.93 L608.04 475.93 L609.58 475.93 L611.12 475.93 L612.67 475.93 L614.21 475.93 L615.76 475.93 L617.30 475.93 L618.84 475.93 L620.39 475.93 L621.93 475.93 L623.48 475.93 L625.02 475.93 L626.56 475.93 L628.11 475.93 L629.65 475.93 L631.19 475.94 L632.74 475.94 L634.28 475.94 L635.83 475.94 L637.37 475.94 L638.91 475.94 L640.46 475.94 L642.00 475.94 L643.55 475.94 L645.09 475.94 L646.63 475.94 L648.18 475.94 L649.72 475.94 L651.26 475.94 L652.81 475.94 L654.35 475.94 L655.90 475.94 L657.44 475.94 L658.98 475.94 L660.53 475.94 L662.07 475.94 L663.62 475.94 L665.16 475.94 L666.70 475.94 L668.25 475.94 L669.79 475.94 L671.34 475.94 L672.88 475.94 L674.42 475.94 L675.97 475.94 L677.51 475.94 L679.05 475.95 L680.60 475.95 L682.14 475.95 L683.69 475.95 L685.23 475.95 L686.77 475.95 L688.32 475.95 L689.86 475.95 L691.41 475.95 L692.95 475.95 L694.49 475.95 L696.04 475.95 L697.58 475.95 L699.12 475.95 L700.67 475.95 L702.21 475.95 L703.76 475.95 L705.30 475.95 L705.30 476.00 L89.30 476.00 Z" fill="#000000" fill-opacity="0.7" stroke="none"/>
<path d="M89.30 -31.21 L90.84 -31.21 L92.39 -31.21 L93.93 -31.21 L95.48 117.94 L97.02 220.73 L98.56 287.04 L100.11 331.42 L101.65 362.25 L103.19 384.38 L104.74 400.75 L106.28 413.16 L107.83 422.77 L109.37 430.36 L110.91 436.45 L112.46 441.41 L114.00 445.50 L115.55 448.90 L117.09 451.78 L118.63 454.22 L120.18 456.31 L121.72 458.11 L123.26 459.68 L124.81 461.05 L126.35 462.26 L127.90 463.32 L129.44 464.27 L130.98 465.12 L132.53 465.87 L134.07 466.56 L135.62 467.17 L137.16 467.73 L138.70 468.23 L140.25 468.69 L141.79 469.12 L143.34 469.50 L144.88 469.86 L146.42 470.18 L147.97 470.48 L149.51 470.76 L151.05 471.02 L152.60 471.26 L154.14 471.48 L155.69 471.69 L157.23 471.88 L158.77 472.06 L160.32 472.23 L161.86 472.39 L163.41 472.54 L164.95 472.68 L166.49 472.81 L168.04 472.93 L169.58 473.05 L171.12 473.16 L172.67 473.26 L174.21 473.36 L175.76 473.45 L177.30 473.54 L178.84 473.63 L180.39 473.71 L181.93 473.78 L183.48 473.85 L185.02 473.92 L186.56 473.99 L188.11 474.05 L189.65 474.11 L191.19 474.17 L192.74 474.22 L194.28 474.27 L195.83 474.32 L197.37 474.37 L198.91 474.41 L200.46 474.46 L202.00 474.50 L203.55 474.54 L205.09 474.58 L206.63 474.62 L208.18 474.65 L209.72 474.69 L211.26 474.72 L212.81 474.75 L214.35 474.78 L215.90 474.81 L217.44 474.84 L218.98 474.87 L220.53 474.89 L222.07 474.92 L223.62 474.94 L225.16 474.97 L226.70 474.99 L228.25 475.01 L229.79 475.03 L231.34 475.06 L232.88 475.08 L234.42 475.09 L235.97 475.11 L237.51 475.13 L239.05 475.15 L240.60 475.17 L242.14 475.18 L243.69 475.20 L245.23 475.22 L246.77 475.23 L248.32 475.25 L249.86 475.26 L251.41 475.27 L252.95 475.29 L254.49 475.30 L256.04 475.31 L257.58 475.33 L259.12 475.34 L260.67 475.35 L262.21 475.36 L263.76 475.37 L265.30 475.38 L266.84 475.40 L268.39 475.41 L269.93 475.42 L271.48 475.43 L273.02 475.44 L274.56 475.44 L276.11 475.45 L277.65 475.46 L279.19 475.47 L280.74 475.48 L282.28 475.49 L283.83 475.50 L285.37 475.50 L286.91 475.51 L288.46 475.52 L290.00 475.53 L291.55 475.53 L293.09 475.54 L294.63 475.55 L296.18 475.55 L297.72 475.56 L299.26 475.57 L300.81 475.57 L302.35 475.58 L303.90 475.59 L305.44 475.59 L306.98 475.60 L308.53 475.60 L310.07 475.61 L311.62 475.61 L313.16 475.62 L314.70 475.62 L316.25 475.63 L317.79 475.63 L319.34 475.64 L320.88 475.64 L322.42 475.65 L323.97 475.65 L325.51 475.66 L327.05 475.66 L328.60 475.67 L330.14 475.67 L331.69 475.68 L333.23 475.68 L334.77 475.68 L336.32 475.69 L337.86 475.69 L339.41 475.70 L340.95 475.70 L342.49 475.70 L344.04 475.71 L345.58 475.71 L347.12 475.71 L348.67 475.72 L350.21 475.72 L351.76 475.72 L353.30 475.73 L354.84 475.73 L356.39 475.73 L357.93 475.74 L359.48 475.74 L361.02 475.74 L362.56 475.74 L364.11 475.75 L365.65 475.75 L367.19 475.75 L368.74 475.76 L370.28 475.76 L371.83 475.76 L373.37 475.76 L374.91 475.77 L376.46 475.77 L378.00 475.77 L379.55 475.77 L381.09 475.78 L382.63 475.78 L384.18 475.78 L385.72 475.78 L387.26 475.79 L388.81 475.79 L390.35 475.79 L391.90 475.79 L393.44 475.79 L394.98 475.80 L396.53 475.80 L398.07 475.80 L399.62 475.80 L401.16 475.80 L402.70 475.81 L404.25 475.81 L405.79 475.81 L407.34 475.81 L408.88 475.81 L410.42 475.82 L411.97 475.82 L413.51 475.82 L415.05 475.82 L416.60 475.82 L418.14 475.82 L419.69 475.83 L421.23 475.83 L422.77 475.83 L424.32 475.83 L425.86 475.83 L427.41 475.83 L428.95 475.83 L430.49 475.84 L432.04 475.84 L433.58 475.84 L435.12 475.84 L436.67 475.84 L438.21 475.84 L439.76 475.84 L441.30 475.85 L442.84 475.85 L444.39 475.85 L445.93 475.85 L447.48 475.85 L449.02 475.85 L450.56 475.85 L452.11 475.86 L453.65 475.86 L455.19 475.86 L456.74 475.86 L458.28 475.86 L459.83 475.86 L461.37 475.86 L462.91 475.86 L464.46 475.86 L466.00 475.87 L467.55 475.87 L469.09 475.87 L470.63 475.87 L472.18 475.87 L473.72 475.87 L475.26 475.87 L476.81 475.87 L478.35 475.87 L479.90 475.87 L481.44 475.88 L482.98 475.88 L484.53 475.88 L486.07 475.88 L487.62 475.88 L489.16 475.88 L490.70 475.88 L492.25 475.88 L493.79 475.88 L495.34 475.88 L496.88 475.89 L498.42 475.89 L499.97 475.89 L501.51 475.89 L503.05 475.89 L504.60 475.89 L506.14 475.89 L507.69 475.89 L509.23 475.89 L510.77 475.89 L512.32 475.89 L513.86 475.89 L515.41 475.89 L516.95 475.90 L518.49 475.90 L520.04 475.90 L521.58 475.90 L523.12 475.90 L524.67 475.90 L526.21 475.90 L527.76 475.90 L529.30 475.90 L530.84 475.90 L532.39 475.90 L533.93 475.90 L535.48 475.90 L537.02 475.90 L538.56 475.91 L540.11 475.91 L541.65 475.91 L543.19 475.91 L544.74 475.91 L546.28 475.91 L547.83 475.91 L549.37 475.91 L550.91 475.91 L552.46 475.91 L554.00 475.91 L555.55 475.91 L557.09 475.91 L558.63 475.91 L560.18 475.91 L561.72 475.91 L563.26 475.92 L564.81 475.92 L566.35 475.92 L567.90 475.92 L569.44 475.92 L570.98 475.92 L572.53 475.92 L574.07 475.92 L575.62 475.92 L577.16 475.92 L578.70 475.92 L580.25 475.92 L581.79 475.92 L583.34 475.92 L584.88 475.92 L586.42 475.92 L587.97 475.92 L589.51 475.92 L591.05 475.92 L592.60 475.92 L594.14 475.93 L595.69 475.93 L597.23 475.93 L598.77 475.93 L600.32 475.93 L601.86 475.93 L603.41 475.93 L604.95 475.93 L606.49 475.93 L608.04 475.93 L609.58 475.93 L611.12 475.93 L612.67 475.93 L614.21 475.93 L615.76 475.93 L617.30 475.93 L618.84 475.93 L620.39 475.93 L621.93 475.93 L623.48 475.93 L625.02 475.93 L626.56 475.93 L628.11 475.93 L629.65 475.93 L631.19 475.94 L632.74 475.94 L634.28 475.94 L635.83 475.94 L637.37 475.94 L638.91 475.94 L640.46 475.94 L642.00 475.94 L643.55 475.94 L645.09 475.94 L646.63 475.94 L648.18 475.94 L649.72 475.94 L651.26 475.94 L652.81 475.94 L654.35 475.94 L655.90 475.94 L657.44 475.94 L658.98 475.94 L660.53 475.94 L662.07 475.94 L663.62 475.94 L665.16 475.94 L666.70 475.94 L668.25 475.94 L669.79 475.94 L671.34 475.94 L672.88 475.94 L674.42 475.94 L675.97 475.94 L677.51 475.94 L679.05 475.95 L680.60 475.95 L682.14 475.95 L683.69 475.95 L685.23 475.95 L686.77 475.95 L688.32 475.95 L689.86 475.95 L691.41 475.95 L692.95 475.95 L694.49 475.95 L696.04 475.95 L697.58 475.95 L699.12 475.95 L700.67 475.95 L702.21 475.95 L703.76 475.95 L705.30 475.95" fill="none" stroke="#000000" stroke-width="1.2" stroke-opacity="1"/>
<path d="M89.30 475.91 L90.84 475.90 L92.39 475.88 L93.93 475.85 L95.48 475.81 L97.02 475.77 L98.56 475.72 L100.11 475.66 L101.65 475.60 L103.19 475.53 L104.74 475.45 L106.28 475.37 L107.83 475.28 L109.37 475.19 L110.91 475.09 L112.46 474.98 L114.00 474.87 L115.55 474.76 L117.09 474.64 L118.63 474.51 L120.18 474.39 L121.72 474.25 L123.26 474.12 L124.81 473.98 L126.35 473.83 L127.90 473.69 L129.44 473.54 L130.98 473.38 L132.53 473.23 L134.07 473.07 L135.62 472.90 L137.16 472.74 L138.70 472.57 L140.25 472.39 L141.79 472.21 L143.34 472.02 L144.88 471.83 L146.42 471.64 L147.97 471.44 L149.51 471.23 L151.05 471.01 L152.60 470.79 L154.14 470.56 L155.69 470.32 L157.23 470.07 L158.77 469.82 L160.32 469.56 L161.86 469.28 L163.41 469.00 L164.95 468.71 L166.49 468.42 L168.04 468.11 L169.58 467.79 L171.12 467.47 L172.67 467.13 L174.21 466.79 L175.76 466.44 L177.30 466.09 L178.84 465.72 L180.39 465.35 L181.93 464.97 L183.48 464.59 L185.02 464.20 L186.56 463.80 L188.11 463.40 L189.65 462.99 L191.19 462.58 L192.74 462.17 L194.28 461.76 L195.83 461.34 L197.37 460.92 L198.91 460.50 L200.46 460.08 L202.00 459.66 L203.55 459.24 L205.09 458.82 L206.63 458.41 L208.18 458.00 L209.72 457.59 L211.26 457.19 L212.81 456.79 L214.35 456.40 L215.90 456.02 L217.44 455.64 L218.98 455.27 L220.53 454.92 L222.07 454.57 L223.62 454.23 L225.16 453.90 L226.70 453.59 L228.25 453.29 L229.79 453.00 L231.34 452.72 L232.88 452.46 L234.42 452.21 L235.97 451.98 L237.51 451.76 L239.05 451.56 L240.60 451.37 L242.14 451.20 L243.69 451.05 L245.23 450.90 L246.77 450.78 L248.32 450.67 L249.86 450.58 L251.41 450.50 L252.95 450.44 L254.49 450.39 L256.04 450.36 L257.58 450.34 L259.12 450.33 L260.67 450.34 L262.21 450.36 L263.76 450.40 L265.30 450.45 L266.84 450.51 L268.39 450.58 L269.93 450.66 L271.48 450.75 L273.02 450.86 L274.56 450.97 L276.11 451.09 L277.65 451.22 L279.19 451.36 L280.74 451.50 L282.28 451.66 L283.83 451.82 L285.37 451.98 L286.91 452.15 L288.46 452.33 L290.00 452.51 L291.55 452.70 L293.09 452.89 L294.63 453.08 L296.18 453.28 L297.72 453.48 L299.26 453.68 L300.81 453.88 L302.35 454.09 L303.90 454.30 L305.44 454.51 L306.98 454.72 L308.53 454.93 L310.07 455.14 L311.62 455.35 L313.16 455.57 L314.70 455.78 L316.25 455.99 L317.79 456.20 L319.34 456.41 L320.88 456.62 L322.42 456.83 L323.97 457.04 L325.51 457.25 L327.05 457.45 L328.60 457.66 L330.14 457.86 L331.69 458.06 L333.23 458.26 L334.77 458.46 L336.32 458.66 L337.86 458.85 L339.41 459.04 L340.95 459.23 L342.49 459.42 L344.04 459.61 L345.58 459.80 L347.12 459.98 L348.67 460.16 L350.21 460.34 L351.76 460.52 L353.30 460.69 L354.84 460.86 L356.39 461.03 L357.93 461.20 L359.48 461.37 L361.02 461.53 L362.56 461.70 L364.11 461.86 L365.65 462.01 L367.19 462.17 L368.74 462.32 L370.28 462.48 L371.83 462.63 L373.37 462.77 L374.91 462.92 L376.46 463.06 L378.00 463.20 L379.55 463.34 L381.09 463.48 L382.63 463.62 L384.18 463.75 L385.72 463.89 L387.26 464.02 L388.81 464.14 L390.35 464.27 L391.90 464.40 L393.44 464.52 L394.98 464.64 L396.53 464.76 L398.07 464.88 L399.62 465.00 L401.16 465.11 L402.70 465.23 L404.25 465.34 L405.79 465.45 L407.34 465.56 L408.88 465.66 L410.42 465.77 L411.97 465.87 L413.51 465.98 L415.05 466.08 L416.60 466.18 L418.14 466.28 L419.69 466.37 L421.23 466.47 L422.77 466.56 L424.32 466.66 L425.86 466.75 L427.41 466.84 L428.95 466.93 L430.49 467.02 L432.04 467.10 L433.58 467.19 L435.12 467.27 L436.67 467.36 L438.21 467.44 L439.76 467.52 L441.30 467.60 L442.84 467.68 L444.39 467.76 L445.93 467.83 L447.48 467.91 L449.02 467.98 L450.56 468.06 L452.11 468.13 L453.65 468.20 L455.19 468.27 L456.74 468.34 L458.28 468.41 L459.83 468.48 L461.37 468.55 L462.91 468.62 L464.46 468.68 L466.00 468.75 L467.55 468.81 L469.09 468.87 L470.63 468.94 L472.18 469.00 L473.72 469.06 L475.26 469.12 L476.81 469.18 L478.35 469.23 L479.90 469.29 L481.44 469.35 L482.98 469.41 L484.53 469.46 L486.07 469.52 L487.62 469.57 L489.16 469.62 L490.70 469.68 L492.25 469.73 L493.79 469.78 L495.34 469.83 L496.88 469.88 L498.42 469.93 L499.97 469.98 L501.51 470.03 L503.05 470.08 L504.60 470.13 L506.14 470.17 L507.69 470.22 L509.23 470.26 L510.77 470.31 L512.32 470.35 L513.86 470.40 L515.41 470.44 L516.95 470.49 L518.49 470.53 L520.04 470.57 L521.58 470.61 L523.12 470.65 L524.67 470.69 L526.21 470.73 L527.76 470.77 L529.30 470.81 L530.84 470.85 L532.39 470.89 L533.93 470.93 L535.48 470.97 L537.02 471.00 L538.56 471.04 L540.11 471.08 L541.65 471.11 L543.19 471.15 L544.74 471.18 L546.28 471.22 L547.83 471.25 L549.37 471.29 L550.91 471.32 L552.46 471.35 L554.00 471.39 L555.55 471.42 L557.09 471.45 L558.63 471.48 L560.18 471.52 L561.72 471.55 L563.26 471.58 L564.81 471.61 L566.35 471.64 L567.90 471.67 L569.44 471.70 L570.98 471.73 L572.53 471.76 L574.07 471.79 L575.62 471.82 L577.16 471.84 L578.70 471.87 L580.25 471.90 L581.79 471.93 L583.34 471.95 L584.88 471.98 L586.42 472.01 L587.97 472.03 L589.51 472.06 L591.05 472.09 L592.60 472.11 L594.14 472.14 L595.69 472.16 L597.23 472.19 L598.77 472.21 L600.32 472.24 L601.86 472.26 L603.41 472.28 L604.95 472.31 L606.49 472.33 L608.04 472.35 L609.58 472.38 L611.12 472.40 L612.67 472.42 L614.21 472.44 L615.76 472.47 L617.30 472.49 L618.84 472.51 L620.39 472.53 L621.93 472.55 L623.48 472.57 L625.02 472.59 L626.56 472.62 L628.11 472.64 L629.65 472.66 L631.19 472.68 L632.74 472.70 L634.28 472.72 L635.83 472.74 L637.37 472.76 L638.91 472.77 L640.46 472.79 L642.00 472.81 L643.55 472.83 L645.09 472.85 L646.63 472.87 L648.18 472.89 L649.72 472.90 L651.26 472.92 L652.81 472.94 L654.35 472.96 L655.90 472.98 L657.44 472.99 L658.98 473.01 L660.53 473.03 L662.07 473.04 L663.62 473.06 L665.16 473.08 L666.70 473.09 L668.25 473.11 L669.79 473.13 L671.34 473.14 L672.88 473.16 L674.42 473.17 L675.97 473.19 L677.51 473.21 L679.05 473.22 L680.60 473.24 L682.14 473.25 L683.69 473.27 L685.23 473.28 L686.77 473.30 L688.32 473.31 L689.86 473.32 L691.41 473.34 L692.95 473.35 L694.49 473.37 L696.04 473.38 L697.58 473.40 L699.12 473.41 L700.67 473.42 L702.21 473.44 L703.76 473.45 L705.30 473.46 L705.30 476.00 L89.30 476.00 Z" fill="#00ff00" fill-opacity="0.7" stroke="none"/>
<path d="M89.30 475.91 L90.84 475.90 L92.39 475.88 L93.93 475.85 L95.48 475.81 L97.02 475.77 L98.56 475.72 L100.11 475.66 L101.65 475.60 L103.19 475.53 L104.74 475.45 L106.28 475.37 L107.83 475.28 L109.37 475.19 L110.91 475.09 L112.46 474.98 L114.00 474.87 L115.55 474.76 L117.09 474.64 L118.63 474.51 L120.18 474.39 L121.72 474.25 L123.26 474.12 L124.81 473.98 L126.35 473.83 L127.90 473.69 L129.44 473.54 L130.98 473.38 L132.53 473.23 L134.07 473.07 L135.62 472.90 L137.16 472.74 L138.70 472.57 L140.25 472.39 L141.79 472.21 L143.34 472.02 L144.88 471.83 L146.42 471.64 L147.97 471.44 L149.51 471.23 L151.05 471.01 L152.60 470.79 L154.14 470.56 L155.69 470.32 L157.23 470.07 L158.77 469.82 L160.32 469.56 L161.86 469.28 L163.41 469.00 L164.95 468.71 L166.49 468.42 L168.04 468.11 L169.58 467.79 L171.12 467.47 L172.67 467.13 L174.21 466.79 L175.76 466.44 L177.30 466.09 L178.84 465.72 L180.39 465.35 L181.93 464.97 L183.48 464.59 L185.02 464.20 L186.56 463.80 L188.11 463.40 L189.65 462.99 L191.19 462.58 L192.74 462.17 L194.28 461.76 L195.83 461.34 L197.37 460.92 L198.91 460.50 L200.46 460.08 L202.00 459.66 L203.55 459.24 L205.09 458.82 L206.63 458.41 L208.18 458.00 L209.72 457.59 L211.26 457.19 L212.81 456.79 L214.35 456.40 L215.90 456.02 L217.44 455.64 L218.98 455.27 L220.53 454.92 L222.07 454.57 L223.62 454.23 L225.16 453.90 L226.70 453.59 L228.25 453.29 L229.79 453.00 L231.34 452.72 L232.88 452.46 L234.42 452.21 L235.97 451.98 L237.51 451.76 L239.05 451.56 L240.60 451.37 L242.14 451.20 L243.69 451.05 L245.23 450.90 L246.77 450.78 L248.32 450.67 L249.86 450.58 L251.41 450.50 L252.95 450.44 L254.49 450.39 L256.04 450.36 L257.58 450.34 L259.12 450.33 L260.67 450.34 L262.21 450.36 L263.76 450.40 L265.30 450.45 L266.84 450.51 L268.39 450.58 L269.93 450.66 L271.48 450.75 L273.02 450.86 L274.56 450.97 L276.11 451.09 L277.65 451.22 L279.19 451.36 L280.74 451.50 L282.28 451.66 L283.83 451.82 L285.37 451.98 L286.91 452.15 L288.46 452.33 L290.00 452.51 L291.55 452.70 L293.09 452.89 L294.63 453.08 L296.18 453.28 L297.72 453.48 L299.26 453.68 L300.81 453.88 L302.35 454.09 L303.90 454.30 L305.44 454.51 L306.98 454.72 L308.53 454.93 L310.07 455.14 L311.62 455.35 L313.16 455.57 L314.70 455.78 L316.25 455.99 L317.79 456.20 L319.34 456.41 L320.88 456.62 L322.42 456.83 L323.97 457.04 L325.51 457.25 L327.05 457.45 L328.60 457.66 L330.14 457.86 L331.69 458.06 L333.23 458.26 L334.77 458.46 L336.32 458.66 L337.86 458.85 L339.41 459.04 L340.95 459.23 L342.49 459.42 L344.04 459.61 L345.58 459.80 L347.12 459.98 L348.67 460.16 L350.21 460.34 L351.76 460.52 L353.30 460.69 L354.84 460.86 L356.39 461.03 L357.93 461.20 L359.48 461.37 L361.02 461.53 L362.56 461.70 L364.11 461.86 L365.65 462.01 L367.19 462.17 L368.74 462.32 L370.28 462.48 L371.83 462.63 L373.37 462.77 L374.91 462.92 L376.46 463.06 L378.00 463.20 L379.55 463.34 L381.09 463.48 L382.63 463.62 L384.18 463.75 L385.72 463.89 L387.26 464.02 L388.81 464.14 L390.35 464.27 L391.90 464.40 L393.44 464.52 L394.98 464.64 L396.53 464.76 L398.07 464.88 L399.62 465.00 L401.16 465.11 L402.70 465.23 L404.25 465.34 L405.79 465.45 L407.34 465.56 L408.88 465.66 L410.42 465.77 L411.97 465.87 L413.51 465.98 L415.05 466.08 L416.60 466.18 L418.14 466.28 L419.69 466.37 L421.23 466.47 L422.77 466.56 L424.32 466.66 L425.86 466.75 L427.41 466.84 L428.95 466.93 L430.49 467.02 L432.04 467.10 L433.58 467.19 L435.12 467.27 L436.67 467.36 L438.21 467.44 L439.76 467.52 L441.30 467.60 L442.84 467.68 L444.39 467.76 L445.93 467.83 L447.48 467.91 L449.02 467.98 L450.56 468.06 L452.11 468.13 L453.65 468.20 L455.19 468.27 L456.74 468.34 L458.28 468.41 L459.83 468.48 L461.37 468.55 L462.91 468.62 L464.46 468.68 L466.00 468.75 L467.55 468.81 L469.09 468.87 L470.63 468.94 L472.18 469.00 L473.72 469.06 L475.26 469.12 L476.81 469.18 L478.35 469.23 L479.90 469.29 L481.44 469.35 L482.98 469.41 L484.53 469.46 L486.07 469.52 L487.62 469.57 L489.16 469.62 L490.70 469.68 L492.25 469.73 L493.79 469.78 L495.34 469.83 L496.88 469.88 L498.42 469.93 L499.97 469.98 L501.51 470.03 L503.05 470.08 L504.60 470.13 L506.14 470.17 L507.69 470.22 L509.23 470.26 L510.77 470.31 L512.32 470.35 L513.86 470.40 L515.41 470.44 L516.95 470.49 L518.49 470.53 L520.04 470.57 L521.58 470.61 L523.12 470.65 L524.67 470.69 L526.21 470.73 L527.76 470.77 L529.30 470.81 L530.84 470.85 L532.39 470.89 L533.93 470.93 L535.48 470.97 L537.02 471.00 L538.56 471.04 L540.11 471.08 L541.65 471.11 L543.19 471.15 L544.74 471.18 L546.28 471.22 L547.83 471.25 L549.37 471.29 L550.91 471.32 L552.46 471.35 L554.00 471.39 L555.55 471.42 L557.09 471.45 L558.63 471.48 L560.18 471.52 L561.72 471.55 L563.26 471.58 L564.81 471.61 L566.35 471.64 L567.90 471.67 L569.44 471.70 L570.98 471.73 L572.53 471.76 L574.07 471.79 L575.62 471.82 L577.16 471.84 L578.70 471.87 L580.25 471.90 L581.79 471.93 L583.34 471.95 L584.88 471.98 L586.42 472.01 L587.97 472.03 L589.51 472.06 L591.05 472.09 L592.60 472.11 L594.14 472.14 L595.69 472.16 L597.23 472.19 L598.77 472.21 L600.32 472.24 L601.86 472.26 L603.41 472.28 L604.95 472.31 L606.49 472.33 L608.04 472.35 L609.58 472.38 L611.12 472.40 L612.67 472.42 L614.21 472.44 L615.76 472.47 L617.30 472.49 L618.84 472.51 L620.39 472.53 L621.93 472.55 L623.48 472.57 L625.02 472.59 L626.56 472.62 L628.11 472.64 L629.65 472.66 L631.19 472.68 L632.74 472.70 L634.28 472.72 L635.83 472.74 L637.37 472.76 L638.91 472.77 L640.46 472.79 L642.00 472.81 L643.55 472.83 L645.09 472.85 L646.63 472.87 L648.18 472.89 L649.72 472.90 L651.26 472.92 L652.81 472.94 L654.35 472.96 L655.90 472.98 L657.44 472.99 L658.98 473.01 L660.53 473.03 L662.07 473.04 L663.62 473.06 L665.16 473.08 L666.70 473.09 L668.25 473.11 L669.79 473.13 L671.34 473.14 L672.88 473.16 L674.42 473.17 L675.97 473.19 L677.51 473.21 L679.05 473.22 L680.60 473.24 L682.14 473.25 L683.69 473.27 L685.23 473.28 L686.77 473.30 L688.32 473.31 L689.86 473.32 L691.41 473.34 L692.95 473.35 L694.49 473.37 L696.04 473.38 L697.58 473.40 L699.12 473.41 L700.67 473.42 L702.21 473.44 L703.76 473.45 L705.30 473.46" fill="none" stroke="#00ff00" stroke-width="1.2" stroke-opacity="1"/>
<path d="M89.30 476.00 L90.84 476.00 L92.39 476.00 L93.93 476.00 L95.48 476.00 L97.02 476.00 L98.56 476.00 L100.11 476.00 L101.65 476.00 L103.19 476.00 L104.74 476.00 L106.28 476.00 L107.83 476.00 L109.37 476.00 L110.91 476.00 L112.46 476.00 L114.00 476.00 L115.55 476.00 L117.09 476.00 L118.63 476.00 L120.18 476.00 L121.72 476.00 L123.26 476.00 L124.81 476.00 L126.35 476.00 L127.90 476.00 L129.44 476.00 L130.98 476.00 L132.53 476.00 L134.07 476.00 L135.62 476.00 L137.16 475.99 L138.70 475.99 L140.25 475.99 L141.79 475.99 L143.34 475.99 L144.88 475.99 L146.42 475.99 L147.97 475.99 L149.51 475.99 L151.05 475.99 L152.60 475.99 L154.14 475.99 L155.69 475.99 L157.23 475.99 L158.77 475.99 L160.32 475.99 L161.86 475.99 L163.41 475.99 L164.95 475.99 L166.49 475.99 L168.04 475.99 L169.58 475.99 L171.12 475.98 L172.67 475.98 L174.21 475.98 L175.76 475.98 L177.30 475.98 L178.84 475.98 L180.39 475.98 L181.93 475.98 L183.48 475.98 L185.02 475.98 L186.56 475.98 L188.11 475.98 L189.65 475.98 L191.19 475.97 L192.74 475.97 L194.28 475.97 L195.83 475.97 L197.37 475.97 L198.91 475.97 L200.46 475.97 L202.00 475.97 L203.55 475.97 L205.09 475.97 L206.63 475.97 L208.18 475.96 L209.72 475.96 L211.26 475.96 L212.81 475.96 L214.35 475.96 L215.90 475.96 L217.44 475.96 L218.98 475.96 L220.53 475.96 L222.07 475.95 L223.62 475.95 L225.16 475.95 L226.70 475.95 L228.25 475.95 L229.79 475.95 L231.34 475.95 L232.88 475.94 L234.42 475.94 L235.97 475.94 L237.51 475.94 L239.05 475.94 L240.60 475.94 L242.14 475.94 L243.69 475.93 L245.23 475.93 L246.77 475.93 L248.32 475.93 L249.86 475.93 L251.41 475.92 L252.95 475.92 L254.49 475.92 L256.04 475.92 L257.58 475.92 L259.12 475.92 L260.67 475.91 L262.21 475.91 L263.76 475.91 L265.30 475.91 L266.84 475.90 L268.39 475.90 L269.93 475.90 L271.48 475.90 L273.02 475.89 L274.56 475.89 L276.11 475.89 L277.65 475.89 L279.19 475.88 L280.74 475.88 L282.28 475.88 L283.83 475.88 L285.37 475.87 L286.91 475.87 L288.46 475.87 L290.00 475.86 L291.55 475.86 L293.09 475.86 L294.63 475.85 L296.18 475.85 L297.72 475.85 L299.26 475.84 L300.81 475.84 L302.35 475.84 L303.90 475.83 L305.44 475.83 L306.98 475.83 L308.53 475.82 L310.07 475.82 L311.62 475.81 L313.16 475.81 L314.70 475.80 L316.25 475.80 L317.79 475.80 L319.34 475.79 L320.88 475.79 L322.42 475.78 L323.97 475.78 L325.51 475.77 L327.05 475.77 L328.60 475.76 L330.14 475.75 L331.69 475.75 L333.23 475.74 L334.77 475.74 L336.32 475.73 L337.86 475.72 L339.41 475.72 L340.95 475.71 L342.49 475.70 L344.04 475.70 L345.58 475.69 L347.12 475.68 L348.67 475.68 L350.21 475.67 L351.76 475.66 L353.30 475.65 L354.84 475.64 L356.39 475.63 L357.93 475.63 L359.48 475.62 L361.02 475.61 L362.56 475.60 L364.11 475.59 L365.65 475.58 L367.19 475.57 L368.74 475.56 L370.28 475.55 L371.83 475.53 L373.37 475.52 L374.91 475.51 L376.46 475.50 L378.00 475.48 L379.55 475.47 L381.09 475.46 L382.63 475.44 L384.18 475.43 L385.72 475.41 L387.26 475.40 L388.81 475.38 L390.35 475.37 L391.90 475.35 L393.44 475.33 L394.98 475.31 L396.53 475.30 L398.07 475.28 L399.62 475.26 L401.16 475.24 L402.70 475.21 L404.25 475.19 L405.79 475.17 L407.34 475.15 L408.88 475.12 L410.42 475.10 L411.97 475.07 L413.51 475.04 L415.05 475.01 L416.60 474.98 L418.14 474.95 L419.69 474.92 L421.23 474.89 L422.77 474.85 L424.32 474.82 L425.86 474.78 L427.41 474.74 L428.95 474.70 L430.49 474.66 L432.04 474.62 L433.58 474.57 L435.12 474.52 L436.67 474.47 L438.21 474.42 L439.76 474.37 L441.30 474.31 L442.84 474.25 L444.39 474.19 L445.93 474.13 L447.48 474.06 L449.02 473.99 L450.56 473.91 L452.11 473.83 L453.65 473.75 L455.19 473.66 L456.74 473.57 L458.28 473.48 L459.83 473.38 L461.37 473.27 L462.91 473.16 L464.46 473.04 L466.00 472.92 L467.55 472.79 L469.09 472.65 L470.63 472.51 L472.18 472.35 L473.72 472.19 L475.26 472.01 L476.81 471.83 L478.35 471.64 L479.90 471.43 L481.44 471.21 L482.98 470.98 L484.53 470.73 L486.07 470.46 L487.62 470.18 L489.16 469.89 L490.70 469.57 L492.25 469.23 L493.79 468.87 L495.34 468.48 L496.88 468.07 L498.42 467.64 L499.97 467.17 L501.51 466.68 L503.05 466.15 L504.60 465.59 L506.14 465.00 L507.69 464.37 L509.23 463.71 L510.77 463.01 L512.32 462.28 L513.86 461.52 L515.41 460.73 L516.95 459.91 L518.49 459.07 L520.04 458.22 L521.58 457.36 L523.12 456.51 L524.67 455.68 L526.21 454.88 L527.76 454.12 L529.30 453.43 L530.84 452.82 L532.39 452.31 L533.93 451.90 L535.48 451.61 L537.02 451.44 L538.56 451.41 L540.11 451.51 L541.65 451.73 L543.19 452.07 L544.74 452.52 L546.28 453.06 L547.83 453.68 L549.37 454.36 L550.91 455.09 L552.46 455.86 L554.00 456.64 L555.55 457.43 L557.09 458.22 L558.63 459.01 L560.18 459.77 L561.72 460.52 L563.26 461.24 L564.81 461.93 L566.35 462.60 L567.90 463.23 L569.44 463.84 L570.98 464.41 L572.53 464.95 L574.07 465.47 L575.62 465.95 L577.16 466.41 L578.70 466.84 L580.25 467.25 L581.79 467.64 L583.34 468.00 L584.88 468.34 L586.42 468.67 L587.97 468.97 L589.51 469.26 L591.05 469.53 L592.60 469.79 L594.14 470.03 L595.69 470.26 L597.23 470.48 L598.77 470.69 L600.32 470.88 L601.86 471.07 L603.41 471.24 L604.95 471.41 L606.49 471.57 L608.04 471.72 L609.58 471.86 L611.12 472.00 L612.67 472.12 L614.21 472.25 L615.76 472.37 L617.30 472.48 L618.84 472.59 L620.39 472.69 L621.93 472.79 L623.48 472.88 L625.02 472.97 L626.56 473.05 L628.11 473.14 L629.65 473.21 L631.19 473.29 L632.74 473.36 L634.28 473.43 L635.83 473.50 L637.37 473.56 L638.91 473.62 L640.46 473.68 L642.00 473.74 L643.55 473.80 L645.09 473.85 L646.63 473.90 L648.18 473.95 L649.72 474.00 L651.26 474.04 L652.81 474.08 L654.35 474.13 L655.90 474.17 L657.44 474.21 L658.98 474.25 L660.53 474.28 L662.07 474.32 L663.62 474.35 L665.16 474.39 L666.70 474.42 L668.25 474.45 L669.79 474.48 L671.34 474.51 L672.88 474.54 L674.42 474.57 L675.97 474.60 L677.51 474.62 L679.05 474.65 L680.60 474.67 L682.14 474.70 L683.69 474.72 L685.23 474.74 L686.77 474.76 L688.32 474.79 L689.86 474.81 L691.41 474.83 L692.95 474.85 L694.49 474.87 L696.04 474.89 L697.58 474.90 L699.12 474.92 L700.67 474.94 L702.21 474.96 L703.76 474.97 L705.30 474.99 L705.30 476.00 L89.30 476.00 Z" fill="#00ffff" fill-opacity="0.7" stroke="none"/>
<path d="M89.30 476.00 L90.84 476.00 L92.39 476.00 L93.93 476.00 L95.48 476.00 L97.02 476.00 L98.56 476.00 L100.11 476.00 L101.65 476.00 L103.19 476.00 L104.74 476.00 L106.28 476.00 L107.83 476.00 L109.37 476.00 L110.91 476.00 L112.46 476.00 L114.00 476.00 L115.55 476.00 L117.09 476.00 L118.63 476.00 L120.18 476.00 L121.72 476.00 L123.26 476.00 L124.81 476.00 L126.35 476.00 L127.90 476.00 L129.44 476.00 L130.98 476.00 L132.53 476.00 L134.07 476.00 L135.62 476.00 L137.16 475.99 L138.70 475.99 L140.25 475.99 L141.79 475.99 L143.34 475.99 L144.88 475.99 L146.42 475.99 L147.97 475.99 L149.51 475.99 L151.05 475.99 L152.60 475.99 L154.14 475.99 L155.69 475.99 L157.23 475.99 L158.77 475.99 L160.32 475.99 L161.86 475.99 L163.41 475.99 L164.95 475.99 L166.49 475.99 L168.04 475.99 L169.58 475.99 L171.12 475.98 L172.67 475.98 L174.21 475.98 L175.76 475.98 L177.30 475.98 L178.84 475.98 L180.39 475.98 L181.93 475.98 L183.48 475.98 L185.02 475.98 L186.56 475.98 L188.11 475.98 L189.65 475.98 L191.19 475.97 L192.74 475.97 L194.28 475.97 L195.83 475.97 L197.37 475.97 L198.91 475.97 L200.46 475.97 L202.00 475.97 L203.55 475.97 L205.09 475.97 L206.63 475.97 L208.18 475.96 L209.72 475.96 L211.26 475.96 L212.81 475.96 L214.35 475.96 L215.90 475.96 L217.44 475.96 L218.98 475.96 L220.53 475.96 L222.07 475.95 L223.62 475.95 L225.16 475.95 L226.70 475.95 L228.25 475.95 L229.79 475.95 L231.34 475.95 L232.88 475.94 L234.42 475.94 L235.97 475.94 L237.51 475.94 L239.05 475.94 L240.60 475.94 L242.14 475.94 L243.69 475.93 L245.23 475.93 L246.77 475.93 L248.32 475.93 L249.86 475.93 L251.41 475.92 L252.95 475.92 L254.49 475.92 L256.04 475.92 L257.58 475.92 L259.12 475.92 L260.67 475.91 L262.21 475.91 L263.76 475.91 L265.30 475.91 L266.84 475.90 L268.39 475.90 L269.93 475.90 L271.48 475.90 L273.02 475.89 L274.56 475.89 L276.11 475.89 L277.65 475.89 L279.19 475.88 L280.74 475.88 L282.28 475.88 L283.83 475.88 L285.37 475.87 L286.91 475.87 L288.46 475.87 L290.00 475.86 L291.55 475.86 L293.09 475.86 L294.63 475.85 L296.18 475.85 L297.72 475.85 L299.26 475.84 L300.81 475.84 L302.35 475.84 L303.90 475.83 L305.44 475.83 L306.98 475.83 L308.53 475.82 L310.07 475.82 L311.62 475.81 L313.16 475.81 L314.70 475.80 L316.25 475.80 L317.79 475.80 L319.34 475.79 L320.88 475.79 L322.42 475.78 L323.97 475.78 L325.51 475.77 L327.05 475.77 L328.60 475.76 L330.14 475.75 L331.69 475.75 L333.23 475.74 L334.77 475.74 L336.32 475.73 L337.86 475.72 L339.41 475.72 L340.95 475.71 L342.49 475.70 L344.04 475.70 L345.58 475.69 L347.12 475.68 L348.67 475.68 L350.21 475.67 L351.76 475.66 L353.30 475.65 L354.84 475.64 L356.39 475.63 L357.93 475.63 L359.48 475.62 L361.02 475.61 L362.56 475.60 L364.11 475.59 L365.65 475.58 L367.19 475.57 L368.74 475.56 L370.28 475.55 L371.83 475.53 L373.37 475.52 L374.91 475.51 L376.46 475.50 L378.00 475.48 L379.55 475.47 L381.09 475.46 L382.63 475.44 L384.18 475.43 L385.72 475.41 L387.26 475.40 L388.81 475.38 L390.35 475.37 L391.90 475.35 L393.44 475.33 L394.98 475.31 L396.53 475.30 L398.07 475.28 L399.62 475.26 L401.16 475.24 L402.70 475.21 L404.25 475.19 L405.79 475.17 L407.34 475.15 L408.88 475.12 L410.42 475.10 L411.97 475.07 L413.51 475.04 L415.05 475.01 L416.60 474.98 L418.14 474.95 L419.69 474.92 L421.23 474.89 L422.77 474.85 L424.32 474.82 L425.86 474.78 L427.41 474.74 L428.95 474.70 L430.49 474.66 L432.04 474.62 L433.58 474.57 L435.12 474.52 L436.67 474.47 L438.21 474.42 L439.76 474.37 L441.30 474.31 L442.84 474.25 L444.39 474.19 L445.93 474.13 L447.48 474.06 L449.02 473.99 L450.56 473.91 L452.11 473.83 L453.65 473.75 L455.19 473.66 L456.74 473.57 L458.28 473.48 L459.83 473.38 L461.37 473.27 L462.91 473.16 L464.46 473.04 L466.00 472.92 L467.55 472.79 L469.09 472.65 L470.63 472.51 L472.18 472.35 L473.72 472.19 L475.26 472.01 L476.81 471.83 L478.35 471.64 L479.90 471.43 L481.44 471.21 L482.98 470.98 L484.53 470.73 L486.07 470.46 L487.62 470.18 L489.16 469.89 L490.70 469.57 L492.25 469.23 L493.79 468.87 L495.34 468.48 L496.88 468.07 L498.42 467.64 L499.97 467.17 L501.51 466.68 L503.05 466.15 L504.60 465.59 L506.14 465.00 L507.69 464.37 L509.23 463.71 L510.77 463.01 L512.32 462.28 L513.86 461.52 L515.41 460.73 L516.95 459.91 L518.49 459.07 L520.04 458.22 L521.58 457.36 L523.12 456.51 L524.67 455.68 L526.21 454.88 L527.76 454.12 L529.30 453.43 L530.84 452.82 L532.39 452.31 L533.93 451.90 L535.48 451.61 L537.02 451.44 L538.56 451.41 L540.11 451.51 L541.65 451.73 L543.19 452.07 L544.74 452.52 L546.28 453.06 L547.83 453.68 L549.37 454.36 L550.91 455.09 L552.46 455.86 L554.00 456.64 L555.55 457.43 L557.09 458.22 L558.63 459.01 L560.18 459.77 L561.72 460.52 L563.26 461.24 L564.81 461.93 L566.35 462.60 L567.90 463.23 L569.44 463.84 L570.98 464.41 L572.53 464.95 L574.07 465.47 L575.62 465.95 L577.16 466.41 L578.70 466.84 L580.25 467.25 L581.79 467.64 L583.34 468.00 L584.88 468.34 L586.42 468.67 L587.97 468.97 L589.51 469.26 L591.05 469.53 L592.60 469.79 L594.14 470.03 L595.69 470.26 L597.23 470.48 L598.77 470.69 L600.32 470.88 L601.86 471.07 L603.41 471.24 L604.95 471.41 L606.49 471.57 L608.04 471.72 L609.58 471.86 L611.12 472.00 L612.67 472.12 L614.21 472.25 L615.76 472.37 L617.30 472.48 L618.84 472.59 L620.39 472.69 L621.93 472.79 L623.48 472.88 L625.02 472.97 L626.56 473.05 L628.11 473.14 L629.65 473.21 L631.19 473.29 L632.74 473.36 L634.28 473.43 L635.83 473.50 L637.37 473.56 L638.91 473.62 L640.46 473.68 L642.00 473.74 L643.55 473.80 L645.09 473.85 L646.63 473.90 L648.18 473.95 L649.72 474.00 L651.26 474.04 L652.81 474.08 L654.35 474.13 L655.90 474.17 L657.44 474.21 L658.98 474.25 L660.53 474.28 L662.07 474.32 L663.62 474.35 L665.16 474.39 L666.70 474.42 L668.25 474.45 L669.79 474.48 L671.34 474.51 L672.88 474.54 L674.42 474.57 L675.97 474.60 L677.51 474.62 L679.05 474.65 L680.60 474.67 L682.14 474.70 L683.69 474.72 L685.23 474.74 L686.77 474.76 L688.32 474.79 L689.86 474.81 L691.41 474.83 L692.95 474.85 L694.49 474.87 L696.04 474.89 L697.58 474.90 L699.12 474.92 L700.67 474.94 L702.21 474.96 L703.76 474.97 L705.30 474.99" fill="none" stroke="#00ffff" stroke-width="1.2" stroke-opacity="1"/>
<path d="M102.0 -20.0 L102.3 -17.3 L102.5 -14.6 L102.7 -11.8 L103.0 -9.1 L103.2 -6.4 L103.4 -3.7 L103.6 -1.0 L103.9 1.8 L104.1 4.5 L104.3 7.2 L104.5 9.9 L104.8 12.6 L105.0 15.4 L105.2 18.1 L105.4 20.8 L105.6 23.5 L105.9 26.2 L106.1 29.0 L106.3 31.7 L106.5 34.4 L106.8 37.1 L107.0 39.9 L107.2 42.6 L107.4 45.3 L107.7 48.0 L107.9 50.7 L108.1 53.5 L108.3 56.2 L108.6 58.9 L108.8 61.6 L109.0 64.4 L109.3 67.1 L109.5 69.8 L109.8 72.5 L110.0 75.2 L110.2 78.0 L110.5 80.7 L110.7 83.4 L111.0 86.1 L111.2 88.9 L111.5 91.6 L111.7 94.3 L112.0 97.0 L112.2 99.7 L112.5 102.5 L112.8 105.2 L113.0 107.9 L113.3 110.6 L113.6 113.3 L113.9 116.0 L114.1 118.8 L114.4 121.5 L114.7 124.2 L115.0 126.9 L115.3 129.6 L115.6 132.3 L115.9 135.1 L116.2 137.8 L116.5 140.5 L116.8 143.2 L117.1 145.9 L117.4 148.6 L117.8 151.3 L118.1 154.0 L118.4 156.7 L118.8 159.5 L119.1 162.2 L119.5 164.9 L119.8 167.6 L120.2 170.3 L120.5 173.0 L120.9 175.7 L121.3 178.4 L121.6 181.1 L122.0 183.8 L122.4 186.5 L122.8 189.2 L123.2 191.9 L123.6 194.6 L124.0 197.3 L124.4 200.0 L124.9 202.7 L125.3 205.4 L125.7 208.1 L126.2 210.8 L126.6 213.5 L127.1 216.2 L127.5 218.9 L128.0 221.6 L128.5 224.2 L128.9 226.9 L129.4 229.6 L129.9 232.3 L130.4 235.0 L130.9 237.7 L131.4 240.4 L132.0 243.0 L132.5 245.7 L133.0 248.4 L133.6 251.1 L134.1 253.7 L134.7 256.4 L135.2 259.1 L135.8 261.8 L136.4 264.4 L137.0 267.1 L137.6 269.8 L138.2 272.4 L138.8 275.1 L139.4 277.7 L140.1 280.4 L140.7 283.1 L141.4 285.7 L142.0 288.4 L142.7 291.0 L143.4 293.7 L144.1 296.3 L144.8 298.9 L145.5 301.6 L146.2 304.2 L146.9 306.9 L147.7 309.5 L148.4 312.1 L149.2 314.7 L149.9 317.4 L150.7 320.0 L151.5 322.6 L152.3 325.2 L153.1 327.8 L154.0 330.4 L154.9 333.0 L155.8 335.5 L156.7 338.1 L157.7 340.6 L158.7 343.1 L159.7 345.7 L160.8 348.1 L162.0 350.6 L163.2 353.0 L164.4 355.5 L165.7 357.8 L167.0 360.2 L168.4 362.6 L169.9 364.9 L171.4 367.1 L173.0 369.4 L174.7 371.6 L176.4 373.8 L178.2 375.9 L180.1 377.9 L182.0 379.9 L184.0 381.9 L186.0 383.7 L188.1 385.5 L190.3 387.2 L192.5 388.8 L194.8 390.2 L197.1 391.6 L199.5 392.9 L201.9 394.1 L204.4 395.1 L207.0 396.0 L209.5 396.8 L212.1 397.5 L214.8 398.1 L217.5 398.7 L220.2 399.1 L222.9 399.4 L225.6 399.7 L228.3 399.9 L231.1 400.1 L233.8 400.2 L236.6 400.3 L239.3 400.3 L242.1 400.2 L244.8 400.2 L247.5 400.0 L250.3 399.9 L253.0 399.7 L255.7 399.5 L258.4 399.3 L261.1 399.0 L263.8 398.7 L266.6 398.4 L269.3 398.0 L272.0 397.6 L274.7 397.2 L277.4 396.8 L280.1 396.4 L282.8 396.0 L285.5 395.5 L288.2 395.1 L290.9 394.6 L293.6 394.1 L296.3 393.7 L299.0 393.2 L301.6 392.7 L304.3 392.1 L307.0 391.5 L309.6 390.9 L312.2 390.1 L314.8 389.3 L317.3 388.4 L319.8 387.3 L322.3 386.2 L324.7 384.9 L327.1 383.6 L329.4 382.2 L331.8 380.7 L334.1 379.2 L336.3 377.6 L338.6 376.0 L340.8 374.5 L343.1 372.9 L345.3 371.2 L347.4 369.6 L349.6 368.0 L351.8 366.3 L353.9 364.6 L356.0 362.9 L358.1 361.2 L360.2 359.5 L362.3 357.7 L364.4 356.0 L366.4 354.2 L368.5 352.4 L370.5 350.6 L372.5 348.8 L374.6 347.0 L376.6 345.2 L378.6 343.3 L380.5 341.4 L382.5 339.6 L384.5 337.7 L386.5 335.8 L388.4 333.8 L390.4 331.9 L392.3 330.0 L394.3 328.0 L396.2 326.1 L398.2 324.1 L400.1 322.2 L402.1 320.2 L404.0 318.3 L406.0 316.3 L408.0 314.4 L409.9 312.4 L411.9 310.5 L413.9 308.6 L415.9 306.7 L417.9 304.9 L419.9 303.0 L422.0 301.2 L424.0 299.4 L426.1 297.6 L428.2 295.8 L430.3 294.1 L432.5 292.4 L434.6 290.8 L436.8 289.2 L439.0 287.6 L441.2 286.1 L443.5 284.6 L445.8 283.2 L448.1 281.8 L450.4 280.5 L452.8 279.2 L455.2 278.0 L457.7 276.8 L460.2 275.7 L462.7 274.6 L465.2 273.6 L467.8 272.7 L470.4 271.7 L473.0 270.8 L475.6 269.9 L478.2 269.0 L480.8 268.1 L483.4 267.2 L486.0 266.3 L488.5 265.3 L491.1 264.4 L493.6 263.3 L496.1 262.3 L498.6 261.1 L501.0 259.9 L503.4 258.7 L505.8 257.3 L508.1 255.9 L510.4 254.3 L512.6 252.7 L514.9 251.1 L517.1 249.5 L519.4 248.0 L521.6 246.5 L524.0 245.2 L526.4 243.9 L528.8 242.8 L531.3 241.8 L533.8 241.0 L536.4 240.2 L539.0 239.5 L541.6 238.8 L544.3 238.3 L547.0 237.8 L549.7 237.3 L552.4 236.9 L555.1 236.5 L557.8 236.0 L560.5 235.5 L563.1 234.8 L565.7 234.0 L568.2 233.0 L570.6 232.0 L573.0 230.9 L575.3 229.6 L577.6 228.3 L579.8 226.8 L582.0 225.3 L584.1 223.7 L586.2 222.0 L588.3 220.2 L590.2 218.4 L592.2 216.5 L594.1 214.5 L596.0 212.5 L597.8 210.4 L599.6 208.3 L601.3 206.2 L603.0 204.0 L604.7 201.8 L606.3 199.5 L607.9 197.2 L609.5 194.9 L611.0 192.6 L612.5 190.3 L614.0 188.0 L615.5 185.7 L616.9 183.3 L618.3 181.0 L619.7 178.6 L621.1 176.3 L622.4 173.9 L623.8 171.5 L625.1 169.2 L626.4 166.8 L627.7 164.4 L629.0 162.1 L630.4 159.7 L631.7 157.3 L633.0 155.0 L634.3 152.6 L635.7 150.2 L637.0 147.9 L638.4 145.5 L639.8 143.2 L641.1 140.8 L642.5 138.5 L643.9 136.2 L645.3 133.8 L646.7 131.5 L648.2 129.1 L649.6 126.8 L651.0 124.4 L652.4 122.1 L653.8 119.7 L655.2 117.4 L656.5 115.0 L657.9 112.7 L659.3 110.3 L660.6 107.9 L662.0 105.6 L663.3 103.2 L664.6 100.8 L665.9 98.4 L667.2 95.9 L668.4 93.5 L669.7 91.1 L671.0 88.7 L672.3 86.3 L673.6 83.9 L675.0 81.6 L676.4 79.3 L677.9 77.0 L679.4 74.7 L681.0 72.5 L682.6 70.3 L684.3 68.2 L686.1 66.1 L688.0 64.1 L689.9 62.2 L692.0 60.4 L694.0 58.6 L696.2 56.9 L698.4 55.3 L700.7 53.8 L703.1 52.4 L705.5 51.2 L708.0 50.0" fill="none" stroke="#555" stroke-width="2.4" stroke-dasharray="10.5 6.5" stroke-dashoffset="12.6"/>
<path d="M102.0 -20.0 L102.2 -17.9 L102.4 -15.7 L102.6 -13.6 L102.8 -11.5 L102.9 -9.3 L103.1 -7.2 L103.3 -5.1 L103.5 -2.9 L103.7 -0.8 L103.8 1.3 L104.0 3.5 L104.2 5.6 L104.4 7.7 L104.5 9.9 L104.7 12.0 L104.9 14.1 L105.1 16.3 L105.2 18.4 L105.4 20.6 L105.6 22.7 L105.8 24.8 L105.9 27.0 L106.1 29.1 L106.3 31.2 L106.5 33.4 L106.6 35.5 L106.8 37.6 L107.0 39.8 L107.2 41.9 L107.4 44.0 L107.5 46.2 L107.7 48.3 L107.9 50.5 L108.1 52.6 L108.2 54.7 L108.4 56.9 L108.6 59.0 L108.8 61.1 L109.0 63.3 L109.2 65.4 L109.3 67.5 L109.5 69.7 L109.7 71.8 L109.9 73.9 L110.1 76.1 L110.3 78.2 L110.5 80.3 L110.7 82.5 L110.8 84.6 L111.0 86.8 L111.2 88.9 L111.4 91.0 L111.6 93.2 L111.8 95.3 L112.0 97.4 L112.2 99.6 L112.4 101.7 L112.6 103.8 L112.9 105.9 L113.1 108.1 L113.3 110.2 L113.5 112.3 L113.7 114.5 L113.9 116.6 L114.1 118.7 L114.4 120.9 L114.6 123.0 L114.8 125.1 L115.0 127.3 L115.3 129.4 L115.5 131.5 L115.7 133.6 L116.0 135.8 L116.2 137.9 L116.4 140.0 L116.7 142.2 L116.9 144.3 L117.2 146.4 L117.4 148.5 L117.7 150.7 L117.9 152.8 L118.2 154.9 L118.4 157.0 L118.7 159.2 L119.0 161.3 L119.2 163.4 L119.5 165.5 L119.8 167.7 L120.1 169.8 L120.4 171.9 L120.6 174.0 L120.9 176.2 L121.2 178.3 L121.5 180.4 L121.8 182.5 L122.1 184.6 L122.4 186.8 L122.7 188.9 L123.0 191.0 L123.4 193.1 L123.7 195.2 L124.0 197.3 L124.3 199.5 L124.7 201.6 L125.0 203.7 L125.3 205.8 L125.7 207.9 L126.0 210.0 L126.4 212.1 L126.7 214.3 L127.1 216.4 L127.4 218.5 L127.8 220.6 L128.2 222.7 L128.5 224.8 L128.9 226.9 L129.3 229.0 L129.7 231.1 L130.1 233.2 L130.5 235.4 L130.9 237.5 L131.3 239.6 L131.7 241.7 L132.1 243.8 L132.5 245.9 L132.9 248.0 L133.4 250.1 L133.8 252.2 L134.2 254.3 L134.7 256.4 L135.1 258.5 L135.6 260.6 L136.0 262.7 L136.5 264.8 L137.0 266.9 L137.4 269.0 L137.9 271.1 L138.4 273.2 L138.9 275.2 L139.4 277.3 L139.9 279.4 L140.4 281.5 L140.9 283.6 L141.4 285.7 L141.9 287.8 L142.4 289.8 L143.0 291.9 L143.5 294.0 L144.0 296.1 L144.6 298.1 L145.1 300.2 L145.7 302.3 L146.3 304.3 L146.8 306.4 L147.4 308.4 L148.0 310.5 L148.6 312.6 L149.1 314.6 L149.7 316.6 L150.3 318.7 L150.9 320.7 L151.6 322.8 L152.2 324.8 L152.8 326.8 L153.5 328.8 L154.1 330.8 L154.8 332.9 L155.5 334.9 L156.2 336.9 L157.0 338.8 L157.8 340.8 L158.6 342.8 L159.4 344.8 L160.2 346.7 L161.1 348.7 L162.0 350.6 L162.9 352.6 L163.9 354.5 L164.9 356.4 L165.9 358.3 L167.0 360.2 L168.1 362.1 L169.3 363.9 L170.5 365.8 L171.7 367.6 L172.9 369.4 L174.2 371.1 L175.6 372.9 L176.9 374.5 L178.4 376.2 L179.8 377.8 L181.3 379.4 L182.8 380.9 L184.4 382.4 L186.0 383.8 L187.6 385.2 L189.3 386.5 L191.0 387.7 L192.7 388.9 L194.5 390.0 L196.3 391.1 L198.2 392.1 L200.1 393.0 L202.0 393.9 L204.0 394.7 L206.0 395.4 L208.0 396.1 L210.0 396.8 L212.1 397.3 L214.2 397.9 L216.2 398.3 L218.3 398.8 L220.5 399.1 L222.6 399.5 L224.7 399.7 L226.9 400.0 L229.0 400.2 L231.2 400.3 L233.3 400.4 L235.5 400.5 L237.6 400.5 L239.8 400.5 L241.9 400.5 L244.1 400.4 L246.2 400.3 L248.3 400.2 L250.5 400.1 L252.6 399.9 L254.7 399.7 L256.8 399.5 L259.0 399.2 L261.1 399.0 L263.2 398.7 L265.3 398.4 L267.5 398.1 L269.6 397.8 L271.7 397.5 L273.8 397.1 L276.0 396.8 L278.1 396.5 L280.2 396.1 L282.3 395.8 L284.5 395.4 L286.6 395.1 L288.7 394.8 L290.8 394.4 L293.0 394.1 L295.1 393.8 L297.3 393.5 L299.4 393.2 L301.5 392.8 L303.6 392.5 L305.7 392.0 L307.8 391.5 L309.8 391.0 L311.8 390.3 L313.7 389.6 L315.6 388.7 L317.5 387.7 L319.3 386.6 L321.1 385.4 L322.9 384.2 L324.7 383.0 L326.5 381.8 L328.3 380.6 L330.1 379.5 L332.0 378.3 L333.8 377.2 L335.6 376.1 L337.4 375.0 L339.2 373.8 L341.0 372.6 L342.7 371.4 L344.4 370.1 L346.0 368.7 L347.6 367.3 L349.2 365.8 L350.7 364.3 L352.2 362.8 L353.8 361.3 L355.3 359.8 L356.9 358.4 L358.5 356.9 L360.2 355.6 L361.9 354.3 L363.6 353.0 L365.3 351.7 L367.1 350.5 L368.8 349.3 L370.6 348.0 L372.3 346.8 L374.0 345.5 L375.7 344.2 L377.4 342.8 L379.0 341.5 L380.6 340.1 L382.2 338.7 L383.8 337.2 L385.3 335.8 L386.9 334.3 L388.4 332.8 L390.0 331.3 L391.5 329.8 L393.0 328.3 L394.5 326.8 L396.0 325.3 L397.6 323.8 L399.1 322.2 L400.6 320.7 L402.1 319.2 L403.6 317.6 L405.1 316.1 L406.6 314.6 L408.1 313.0 L409.6 311.5 L411.1 310.0 L412.7 308.5 L414.2 306.9 L415.7 305.4 L417.3 303.9 L418.8 302.4 L420.3 301.0 L421.9 299.5 L423.5 298.0 L425.0 296.6 L426.6 295.1 L428.2 293.7 L429.8 292.3 L431.5 290.9 L433.1 289.5 L434.7 288.2 L436.4 286.8 L438.1 285.5 L439.8 284.2 L441.5 282.9 L443.2 281.7 L444.9 280.5 L446.7 279.2 L448.5 278.1 L450.3 276.9 L452.1 275.8 L453.9 274.7 L455.8 273.7 L457.7 272.8 L459.7 272.0 L461.7 271.4 L463.8 271.0 L465.9 270.6 L468.0 270.2 L470.0 269.8 L472.1 269.3 L474.1 268.7 L476.2 268.1 L478.2 267.4 L480.3 266.8 L482.3 266.1 L484.4 265.4 L486.4 264.8 L488.5 264.0 L490.5 263.3 L492.5 262.5 L494.4 261.6 L496.4 260.7 L498.3 259.7 L500.1 258.7 L502.0 257.6 L503.8 256.5 L505.6 255.4 L507.4 254.2 L509.1 252.9 L510.9 251.7 L512.6 250.5 L514.4 249.2 L516.1 248.0 L517.9 246.7 L519.6 245.5 L521.4 244.2 L523.2 243.0 L525.0 241.8 L526.8 240.7 L528.6 239.6 L530.5 238.6 L532.3 237.6 L534.3 236.7 L536.2 235.8 L538.2 235.1 L540.2 234.5 L542.2 233.9 L544.3 233.5 L546.4 233.2 L548.6 232.9 L550.8 232.8 L552.9 232.6 L555.1 232.5 L557.3 232.4 L559.5 232.2 L561.6 232.0 L563.8 231.7 L565.9 231.2 L567.9 230.7 L569.9 230.0 L571.8 229.1 L573.7 228.2 L575.5 227.1 L577.3 225.9 L579.0 224.6 L580.6 223.3 L582.2 221.8 L583.8 220.4 L585.3 218.8 L586.8 217.3 L588.3 215.7 L589.7 214.2 L591.2 212.6 L592.6 211.0 L594.0 209.3 L595.4 207.7 L596.7 206.1 L598.1 204.4 L599.4 202.7 L600.7 201.0 L602.0 199.3 L603.2 197.6 L604.5 195.9 L605.7 194.1 L607.0 192.4 L608.2 190.6 L609.4 188.9 L610.6 187.1 L611.8 185.3 L612.9 183.5 L614.1 181.7 L615.2 179.9 L616.4 178.0 L617.5 176.2 L618.6 174.4 L619.7 172.5 L620.9 170.7 L622.0 168.9 L623.1 167.0 L624.2 165.2 L625.3 163.3 L626.4 161.5 L627.5 159.7 L628.6 157.8 L629.7 156.0 L630.8 154.2 L631.9 152.4 L633.1 150.6 L634.2 148.8 L635.3 147.0 L636.4 145.2 L637.5 143.4 L638.7 141.6 L639.8 139.8 L640.9 138.0 L642.0 136.1 L643.1 134.3 L644.2 132.5 L645.3 130.7 L646.5 128.8 L647.6 127.0 L648.7 125.2 L649.8 123.3 L650.9 121.4 L652.0 119.6 L653.1 117.7 L654.2 115.8 L655.3 114.0 L656.5 112.1 L657.6 110.3 L658.8 108.5 L660.0 106.6 L661.2 104.9 L662.5 103.1 L663.7 101.4 L665.0 99.7 L666.4 98.0 L667.7 96.4 L669.1 94.8 L670.6 93.3 L672.1 91.8 L673.6 90.4 L675.2 89.0 L676.8 87.7 L678.5 86.4 L680.2 85.2 L682.0 84.1 L683.9 83.0 L685.8 82.0 L687.8 81.1 L689.8 80.2 L691.8 79.3 L693.8 78.4 L695.7 77.5 L697.6 76.5 L699.5 75.4 L701.2 74.3 L702.8 73.0" fill="none" stroke="#000" stroke-width="2.7" stroke-linejoin="round"/>
</g>
<path d="M189.05 476.0 v-13 M189.05 14.9 v13 M288.80 476.0 v-13 M288.80 14.9 v13 M388.55 476.0 v-13 M388.55 14.9 v13 M488.30 476.0 v-13 M488.30 14.9 v13 M588.05 476.0 v-13 M588.05 14.9 v13 M687.80 476.0 v-13 M687.80 14.9 v13 M139.18 476.0 v-7.2 M139.18 14.9 v7.2 M238.93 476.0 v-7.2 M238.93 14.9 v7.2 M338.68 476.0 v-7.2 M338.68 14.9 v7.2 M438.43 476.0 v-7.2 M438.43 14.9 v7.2 M538.17 476.0 v-7.2 M538.17 14.9 v7.2 M637.92 476.0 v-7.2 M637.92 14.9 v7.2 M89.3 399.15 h13 M705.3 399.15 h-13 M89.3 322.30 h13 M705.3 322.30 h-13 M89.3 245.45 h13 M705.3 245.45 h-13 M89.3 168.60 h13 M705.3 168.60 h-13 M89.3 91.75 h13 M705.3 91.75 h-13 M89.3 437.57 h7.2 M705.3 437.57 h-7.2 M89.3 360.73 h7.2 M705.3 360.73 h-7.2 M89.3 283.88 h7.2 M705.3 283.88 h-7.2 M89.3 207.03 h7.2 M705.3 207.03 h-7.2 M89.3 130.18 h7.2 M705.3 130.18 h-7.2 M89.3 53.33 h7.2 M705.3 53.33 h-7.2" stroke="#000" stroke-width="1.3" fill="none"/>
<rect x="89.3" y="14.9" width="616.0" height="461.1" fill="none" stroke="#000" stroke-width="1.4"/>
</svg>
<div class="yl" style="top:463.0px">0</div>
<div class="yl" style="top:386.1px">0.5</div>
<div class="yl" style="top:309.3px">1</div>
<div class="yl" style="top:232.5px">1.5</div>
<div class="yl" style="top:155.6px">2</div>
<div class="yl" style="top:78.8px">2.5</div>
<div class="yl" style="top:1.9px">3</div>
<div class="xl" style="left:69.3px">0</div>
<div class="xl" style="left:169.1px">1</div>
<div class="xl" style="left:268.8px">2</div>
<div class="xl" style="left:368.6px">3</div>
<div class="xl" style="left:468.3px">4</div>
<div class="xl" style="left:568.0px">5</div>
<div class="xl" style="left:667.8px">6</div>
<div id="xlab"><span class="i">ħω</span> <span class="s" style="margin-left:1.5px">(eV)</span></div>
<div id="ylab"><span class="i" style="display:inline-block;transform:scaleX(1.25);transform-origin:0 50%;margin-right:3.5px">σ</span><sub>1</sub>(<span class="i">ω</span>)&nbsp; (kS<span style="margin-left:-4px"> </span>cm<sup>−1</sup>)</div>
</body></html>
